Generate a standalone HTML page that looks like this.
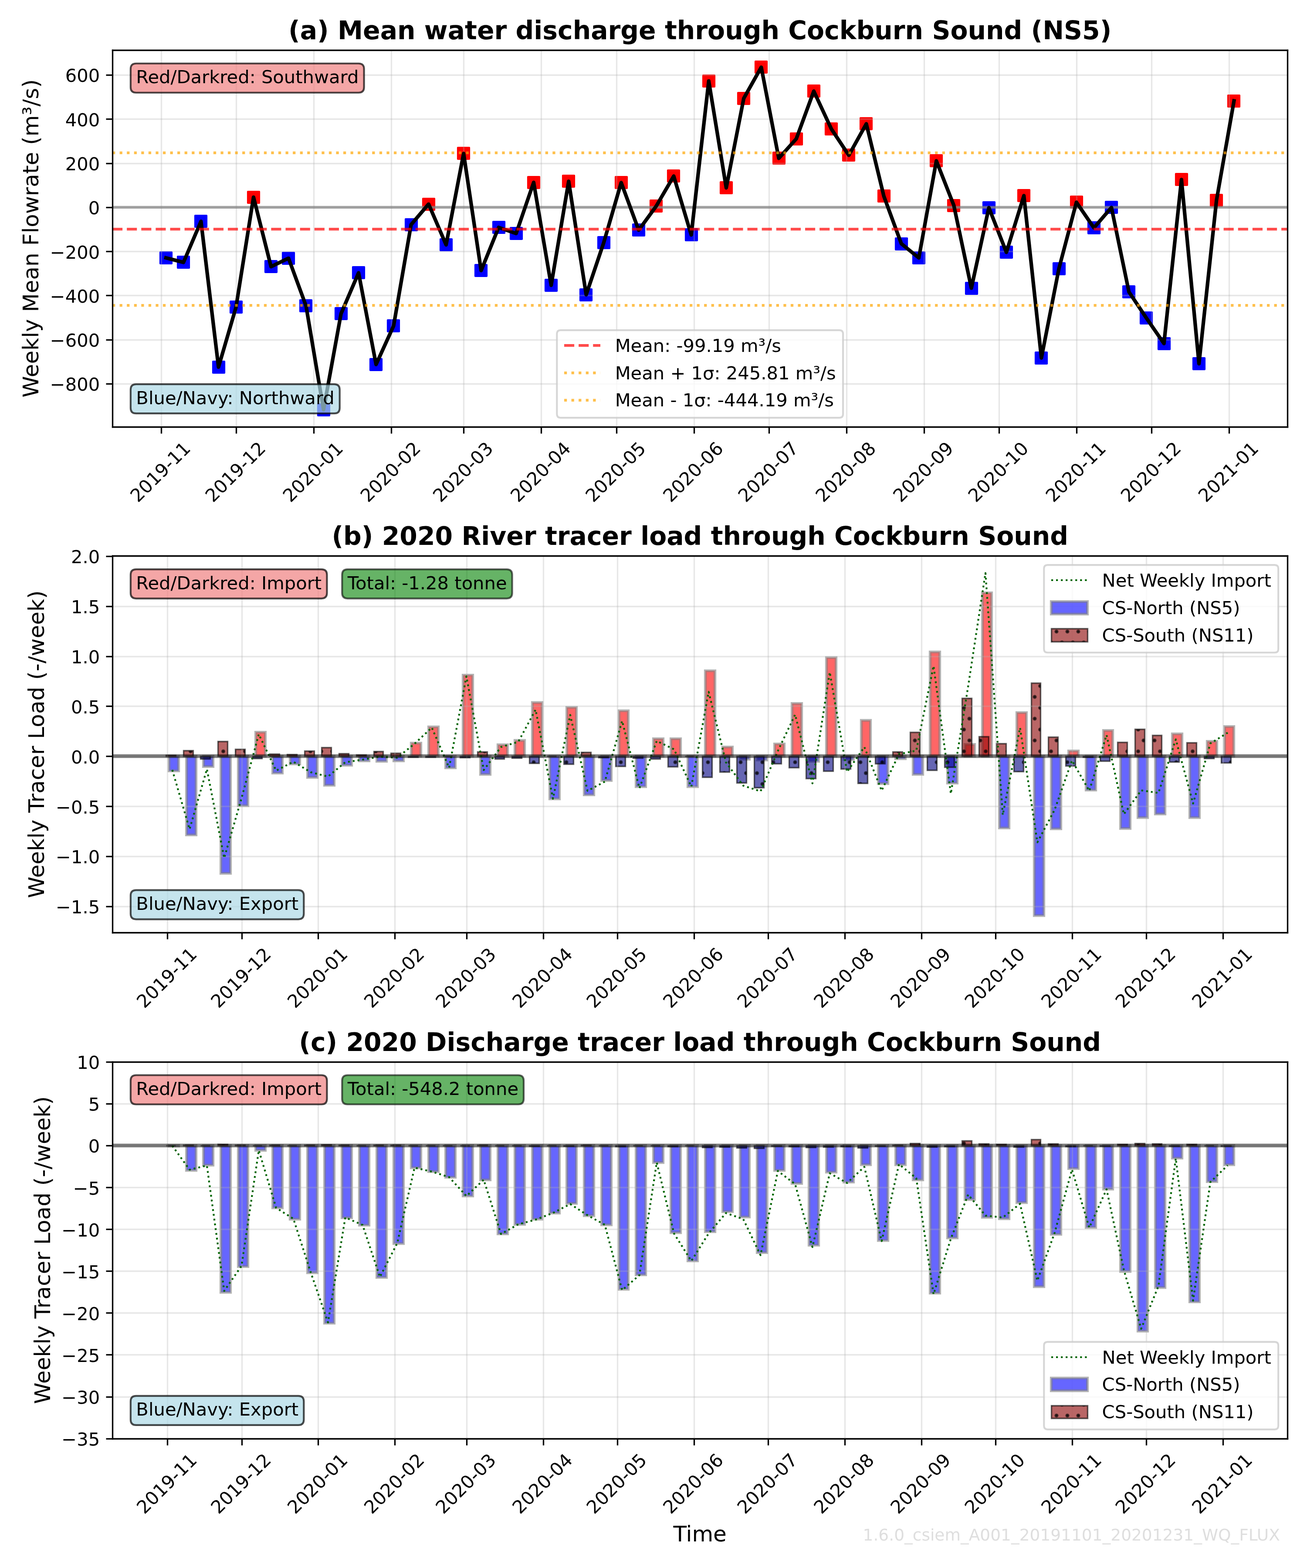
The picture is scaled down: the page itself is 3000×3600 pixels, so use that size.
<!DOCTYPE html>
<html lang="en">
<head>
<meta charset="utf-8">
<title>Cockburn Sound flux</title>
<style>
html,body{margin:0;padding:0;background:#fff;}
body{width:3000px;height:3600px;overflow:hidden;}
svg{display:block;}
text{font-family:'DejaVu Sans','Liberation Sans',sans-serif;}
</style>
</head>
<body>
<svg width="3000" height="3600" viewBox="0 0 720 864" version="1.1">
<defs>
<style type="text/css">*{stroke-linejoin: round; stroke-linecap: butt}</style>
</defs>
<g>
<g>
<path d="M 0 864 L 720 864 L 720 0 L 0 0 z" style="fill: #ffffff" />
</g>
<g>
<g>
<path d="M 61.92 235.2 L 709.2 235.2 L 709.2 27.6 L 61.92 27.6 z" style="fill: #ffffff" />
</g>
<g>
<g clip-path="url(#p6a56308ee3)">
<path d="M 88.32 145.2 L 94.56 145.2 L 94.56 138.96 L 88.32 138.96 z" style="fill: #0000ff; stroke: #0000ff" />
</g>
<g clip-path="url(#p6a56308ee3)">
<path d="M 97.92 147.6 L 104.16 147.6 L 104.16 141.36 L 97.92 141.36 z" style="fill: #0000ff; stroke: #0000ff" />
</g>
<g clip-path="url(#p6a56308ee3)">
<path d="M 107.52 125.04 L 113.76 125.04 L 113.76 118.8 L 107.52 118.8 z" style="fill: #0000ff; stroke: #0000ff" />
</g>
<g clip-path="url(#p6a56308ee3)">
<path d="M 117.36 205.44 L 123.6 205.44 L 123.6 199.2 L 117.36 199.2 z" style="fill: #0000ff; stroke: #0000ff" />
</g>
<g clip-path="url(#p6a56308ee3)">
<path d="M 126.96 172.32 L 133.2 172.32 L 133.2 166.08 L 126.96 166.08 z" style="fill: #0000ff; stroke: #0000ff" />
</g>
<g clip-path="url(#p6a56308ee3)">
<path d="M 136.56 111.84 L 142.8 111.84 L 142.8 105.6 L 136.56 105.6 z" style="fill: #ff0000; stroke: #ff0000" />
</g>
<g clip-path="url(#p6a56308ee3)">
<path d="M 146.16 150 L 152.4 150 L 152.4 143.76 L 146.16 143.76 z" style="fill: #0000ff; stroke: #0000ff" />
</g>
<g clip-path="url(#p6a56308ee3)">
<path d="M 155.76 145.44 L 162 145.44 L 162 139.2 L 155.76 139.2 z" style="fill: #0000ff; stroke: #0000ff" />
</g>
<g clip-path="url(#p6a56308ee3)">
<path d="M 165.36 171.6 L 171.6 171.6 L 171.6 165.36 L 165.36 165.36 z" style="fill: #0000ff; stroke: #0000ff" />
</g>
<g clip-path="url(#p6a56308ee3)">
<path d="M 175.2 228.96 L 181.44 228.96 L 181.44 222.72 L 175.2 222.72 z" style="fill: #0000ff; stroke: #0000ff" />
</g>
<g clip-path="url(#p6a56308ee3)">
<path d="M 184.8 175.92 L 191.04 175.92 L 191.04 169.68 L 184.8 169.68 z" style="fill: #0000ff; stroke: #0000ff" />
</g>
<g clip-path="url(#p6a56308ee3)">
<path d="M 194.4 153.36 L 200.64 153.36 L 200.64 147.12 L 194.4 147.12 z" style="fill: #0000ff; stroke: #0000ff" />
</g>
<g clip-path="url(#p6a56308ee3)">
<path d="M 204 204 L 210.24 204 L 210.24 197.76 L 204 197.76 z" style="fill: #0000ff; stroke: #0000ff" />
</g>
<g clip-path="url(#p6a56308ee3)">
<path d="M 213.6 182.64 L 219.84 182.64 L 219.84 176.4 L 213.6 176.4 z" style="fill: #0000ff; stroke: #0000ff" />
</g>
<g clip-path="url(#p6a56308ee3)">
<path d="M 223.44 126.96 L 229.68 126.96 L 229.68 120.72 L 223.44 120.72 z" style="fill: #0000ff; stroke: #0000ff" />
</g>
<g clip-path="url(#p6a56308ee3)">
<path d="M 233.04 115.68 L 239.28 115.68 L 239.28 109.44 L 233.04 109.44 z" style="fill: #ff0000; stroke: #ff0000" />
</g>
<g clip-path="url(#p6a56308ee3)">
<path d="M 242.64 138 L 248.88 138 L 248.88 131.76 L 242.64 131.76 z" style="fill: #0000ff; stroke: #0000ff" />
</g>
<g clip-path="url(#p6a56308ee3)">
<path d="M 252.24 87.6 L 258.48 87.6 L 258.48 81.36 L 252.24 81.36 z" style="fill: #ff0000; stroke: #ff0000" />
</g>
<g clip-path="url(#p6a56308ee3)">
<path d="M 261.84 152.16 L 268.08 152.16 L 268.08 145.92 L 261.84 145.92 z" style="fill: #0000ff; stroke: #0000ff" />
</g>
<g clip-path="url(#p6a56308ee3)">
<path d="M 271.68 128.4 L 277.92 128.4 L 277.92 122.16 L 271.68 122.16 z" style="fill: #0000ff; stroke: #0000ff" />
</g>
<g clip-path="url(#p6a56308ee3)">
<path d="M 281.28 131.76 L 287.52 131.76 L 287.52 125.52 L 281.28 125.52 z" style="fill: #0000ff; stroke: #0000ff" />
</g>
<g clip-path="url(#p6a56308ee3)">
<path d="M 290.88 103.68 L 297.12 103.68 L 297.12 97.44 L 290.88 97.44 z" style="fill: #ff0000; stroke: #ff0000" />
</g>
<g clip-path="url(#p6a56308ee3)">
<path d="M 300.48 160.32 L 306.72 160.32 L 306.72 154.08 L 300.48 154.08 z" style="fill: #0000ff; stroke: #0000ff" />
</g>
<g clip-path="url(#p6a56308ee3)">
<path d="M 310.08 102.96 L 316.32 102.96 L 316.32 96.72 L 310.08 96.72 z" style="fill: #ff0000; stroke: #ff0000" />
</g>
<g clip-path="url(#p6a56308ee3)">
<path d="M 319.68 165.6 L 325.92 165.6 L 325.92 159.36 L 319.68 159.36 z" style="fill: #0000ff; stroke: #0000ff" />
</g>
<g clip-path="url(#p6a56308ee3)">
<path d="M 329.52 136.8 L 335.76 136.8 L 335.76 130.56 L 329.52 130.56 z" style="fill: #0000ff; stroke: #0000ff" />
</g>
<g clip-path="url(#p6a56308ee3)">
<path d="M 339.12 103.68 L 345.36 103.68 L 345.36 97.44 L 339.12 97.44 z" style="fill: #ff0000; stroke: #ff0000" />
</g>
<g clip-path="url(#p6a56308ee3)">
<path d="M 348.72 129.84 L 354.96 129.84 L 354.96 123.6 L 348.72 123.6 z" style="fill: #0000ff; stroke: #0000ff" />
</g>
<g clip-path="url(#p6a56308ee3)">
<path d="M 358.32 116.64 L 364.56 116.64 L 364.56 110.4 L 358.32 110.4 z" style="fill: #ff0000; stroke: #ff0000" />
</g>
<g clip-path="url(#p6a56308ee3)">
<path d="M 367.92 100.08 L 374.16 100.08 L 374.16 93.84 L 367.92 93.84 z" style="fill: #ff0000; stroke: #ff0000" />
</g>
<g clip-path="url(#p6a56308ee3)">
<path d="M 377.76 132.48 L 384 132.48 L 384 126.24 L 377.76 126.24 z" style="fill: #0000ff; stroke: #0000ff" />
</g>
<g clip-path="url(#p6a56308ee3)">
<path d="M 387.36 47.76 L 393.6 47.76 L 393.6 41.52 L 387.36 41.52 z" style="fill: #ff0000; stroke: #ff0000" />
</g>
<g clip-path="url(#p6a56308ee3)">
<path d="M 396.96 106.56 L 403.2 106.56 L 403.2 100.32 L 396.96 100.32 z" style="fill: #ff0000; stroke: #ff0000" />
</g>
<g clip-path="url(#p6a56308ee3)">
<path d="M 406.56 57.36 L 412.8 57.36 L 412.8 51.12 L 406.56 51.12 z" style="fill: #ff0000; stroke: #ff0000" />
</g>
<g clip-path="url(#p6a56308ee3)">
<path d="M 416.16 40.08 L 422.4 40.08 L 422.4 33.84 L 416.16 33.84 z" style="fill: #ff0000; stroke: #ff0000" />
</g>
<g clip-path="url(#p6a56308ee3)">
<path d="M 426 90.24 L 432.24 90.24 L 432.24 84 L 426 84 z" style="fill: #ff0000; stroke: #ff0000" />
</g>
<g clip-path="url(#p6a56308ee3)">
<path d="M 435.6 79.68 L 441.84 79.68 L 441.84 73.44 L 435.6 73.44 z" style="fill: #ff0000; stroke: #ff0000" />
</g>
<g clip-path="url(#p6a56308ee3)">
<path d="M 445.2 53.28 L 451.44 53.28 L 451.44 47.04 L 445.2 47.04 z" style="fill: #ff0000; stroke: #ff0000" />
</g>
<g clip-path="url(#p6a56308ee3)">
<path d="M 454.8 74.16 L 461.04 74.16 L 461.04 67.92 L 454.8 67.92 z" style="fill: #ff0000; stroke: #ff0000" />
</g>
<g clip-path="url(#p6a56308ee3)">
<path d="M 464.4 88.56 L 470.64 88.56 L 470.64 82.32 L 464.4 82.32 z" style="fill: #ff0000; stroke: #ff0000" />
</g>
<g clip-path="url(#p6a56308ee3)">
<path d="M 474 71.28 L 480.24 71.28 L 480.24 65.04 L 474 65.04 z" style="fill: #ff0000; stroke: #ff0000" />
</g>
<g clip-path="url(#p6a56308ee3)">
<path d="M 483.84 111.12 L 490.08 111.12 L 490.08 104.88 L 483.84 104.88 z" style="fill: #ff0000; stroke: #ff0000" />
</g>
<g clip-path="url(#p6a56308ee3)">
<path d="M 493.44 137.52 L 499.68 137.52 L 499.68 131.28 L 493.44 131.28 z" style="fill: #0000ff; stroke: #0000ff" />
</g>
<g clip-path="url(#p6a56308ee3)">
<path d="M 503.04 145.2 L 509.28 145.2 L 509.28 138.96 L 503.04 138.96 z" style="fill: #0000ff; stroke: #0000ff" />
</g>
<g clip-path="url(#p6a56308ee3)">
<path d="M 512.64 91.68 L 518.88 91.68 L 518.88 85.44 L 512.64 85.44 z" style="fill: #ff0000; stroke: #ff0000" />
</g>
<g clip-path="url(#p6a56308ee3)">
<path d="M 522.24 116.4 L 528.48 116.4 L 528.48 110.16 L 522.24 110.16 z" style="fill: #ff0000; stroke: #ff0000" />
</g>
<g clip-path="url(#p6a56308ee3)">
<path d="M 532.08 162 L 538.32 162 L 538.32 155.76 L 532.08 155.76 z" style="fill: #0000ff; stroke: #0000ff" />
</g>
<g clip-path="url(#p6a56308ee3)">
<path d="M 541.68 117.6 L 547.92 117.6 L 547.92 111.36 L 541.68 111.36 z" style="fill: #0000ff; stroke: #0000ff" />
</g>
<g clip-path="url(#p6a56308ee3)">
<path d="M 551.28 142.08 L 557.52 142.08 L 557.52 135.84 L 551.28 135.84 z" style="fill: #0000ff; stroke: #0000ff" />
</g>
<g clip-path="url(#p6a56308ee3)">
<path d="M 560.88 110.88 L 567.12 110.88 L 567.12 104.64 L 560.88 104.64 z" style="fill: #ff0000; stroke: #ff0000" />
</g>
<g clip-path="url(#p6a56308ee3)">
<path d="M 570.48 200.4 L 576.72 200.4 L 576.72 194.16 L 570.48 194.16 z" style="fill: #0000ff; stroke: #0000ff" />
</g>
<g clip-path="url(#p6a56308ee3)">
<path d="M 580.32 151.2 L 586.56 151.2 L 586.56 144.96 L 580.32 144.96 z" style="fill: #0000ff; stroke: #0000ff" />
</g>
<g clip-path="url(#p6a56308ee3)">
<path d="M 589.92 114.48 L 596.16 114.48 L 596.16 108.24 L 589.92 108.24 z" style="fill: #ff0000; stroke: #ff0000" />
</g>
<g clip-path="url(#p6a56308ee3)">
<path d="M 599.52 128.64 L 605.76 128.64 L 605.76 122.4 L 599.52 122.4 z" style="fill: #0000ff; stroke: #0000ff" />
</g>
<g clip-path="url(#p6a56308ee3)">
<path d="M 609.12 117.36 L 615.36 117.36 L 615.36 111.12 L 609.12 111.12 z" style="fill: #0000ff; stroke: #0000ff" />
</g>
<g clip-path="url(#p6a56308ee3)">
<path d="M 618.72 163.92 L 624.96 163.92 L 624.96 157.68 L 618.72 157.68 z" style="fill: #0000ff; stroke: #0000ff" />
</g>
<g clip-path="url(#p6a56308ee3)">
<path d="M 628.32 178.32 L 634.56 178.32 L 634.56 172.08 L 628.32 172.08 z" style="fill: #0000ff; stroke: #0000ff" />
</g>
<g clip-path="url(#p6a56308ee3)">
<path d="M 638.16 192.48 L 644.4 192.48 L 644.4 186.24 L 638.16 186.24 z" style="fill: #0000ff; stroke: #0000ff" />
</g>
<g clip-path="url(#p6a56308ee3)">
<path d="M 647.76 102 L 654 102 L 654 95.76 L 647.76 95.76 z" style="fill: #ff0000; stroke: #ff0000" />
</g>
<g clip-path="url(#p6a56308ee3)">
<path d="M 657.36 203.52 L 663.6 203.52 L 663.6 197.28 L 657.36 197.28 z" style="fill: #0000ff; stroke: #0000ff" />
</g>
<g clip-path="url(#p6a56308ee3)">
<path d="M 666.96 113.52 L 673.2 113.52 L 673.2 107.28 L 666.96 107.28 z" style="fill: #ff0000; stroke: #ff0000" />
</g>
<g clip-path="url(#p6a56308ee3)">
<path d="M 676.56 58.8 L 682.8 58.8 L 682.8 52.56 L 676.56 52.56 z" style="fill: #ff0000; stroke: #ff0000" />
</g>
</g>
<g>
<g>
<g>
<path d="M 88.92 235.32 L 88.92 27.72" clip-path="url(#p6a56308ee3)" style="fill: none; stroke: #b0b0b0; stroke-opacity: 0.3; stroke-width: 0.8; stroke-linecap: square" />
</g>
<g>
<g>
<path d="M 88.92 235.32 L 88.92 238.92" style="stroke: #000000; stroke-width: 0.8" />
</g>
</g>
<g>
<text style="font-size: 10px; font-family: 'DejaVu Sans', 'Liberation Sans', sans-serif" transform="translate(76.02612 277.26743) rotate(-45)">2019-11</text>
</g>
</g>
<g>
<g>
<path d="M 130.2 235.32 L 130.2 27.72" clip-path="url(#p6a56308ee3)" style="fill: none; stroke: #b0b0b0; stroke-opacity: 0.3; stroke-width: 0.8; stroke-linecap: square" />
</g>
<g>
<g>
<path d="M 130.2 235.32 L 130.2 238.92" style="stroke: #000000; stroke-width: 0.8" />
</g>
</g>
<g>
<text style="font-size: 10px; font-family: 'DejaVu Sans', 'Liberation Sans', sans-serif" transform="translate(117.37273 277.24622) rotate(-45)">2019-12</text>
</g>
</g>
<g>
<g>
<path d="M 172.92 235.32 L 172.92 27.72" clip-path="url(#p6a56308ee3)" style="fill: none; stroke: #b0b0b0; stroke-opacity: 0.3; stroke-width: 0.8; stroke-linecap: square" />
</g>
<g>
<g>
<path d="M 172.92 235.32 L 172.92 238.92" style="stroke: #000000; stroke-width: 0.8" />
</g>
</g>
<g>
<text style="font-size: 10px; font-family: 'DejaVu Sans', 'Liberation Sans', sans-serif" transform="translate(160.07599 277.26743) rotate(-45)">2020-01</text>
</g>
</g>
<g>
<g>
<path d="M 215.64 235.32 L 215.64 27.72" clip-path="url(#p6a56308ee3)" style="fill: none; stroke: #b0b0b0; stroke-opacity: 0.3; stroke-width: 0.8; stroke-linecap: square" />
</g>
<g>
<g>
<path d="M 215.64 235.32 L 215.64 238.92" style="stroke: #000000; stroke-width: 0.8" />
</g>
</g>
<g>
<text style="font-size: 10px; font-family: 'DejaVu Sans', 'Liberation Sans', sans-serif" transform="translate(202.80047 277.24622) rotate(-45)">2020-02</text>
</g>
</g>
<g>
<g>
<path d="M 255.48 235.32 L 255.48 27.72" clip-path="url(#p6a56308ee3)" style="fill: none; stroke: #b0b0b0; stroke-opacity: 0.3; stroke-width: 0.8; stroke-linecap: square" />
</g>
<g>
<g>
<path d="M 255.48 235.32 L 255.48 238.92" style="stroke: #000000; stroke-width: 0.8" />
</g>
</g>
<g>
<text style="font-size: 10px; font-family: 'DejaVu Sans', 'Liberation Sans', sans-serif" transform="translate(242.73739 277.28865) rotate(-45)">2020-03</text>
</g>
</g>
<g>
<g>
<path d="M 298.2 235.32 L 298.2 27.72" clip-path="url(#p6a56308ee3)" style="fill: none; stroke: #b0b0b0; stroke-opacity: 0.3; stroke-width: 0.8; stroke-linecap: square" />
</g>
<g>
<g>
<path d="M 298.2 235.32 L 298.2 238.92" style="stroke: #000000; stroke-width: 0.8" />
</g>
</g>
<g>
<text style="font-size: 10px; font-family: 'DejaVu Sans', 'Liberation Sans', sans-serif" transform="translate(285.46186 277.26743) rotate(-45)">2020-04</text>
</g>
</g>
<g>
<g>
<path d="M 339.72 235.32 L 339.72 27.72" clip-path="url(#p6a56308ee3)" style="fill: none; stroke: #b0b0b0; stroke-opacity: 0.3; stroke-width: 0.8; stroke-linecap: square" />
</g>
<g>
<g>
<path d="M 339.72 235.32 L 339.72 238.92" style="stroke: #000000; stroke-width: 0.8" />
</g>
</g>
<g>
<text style="font-size: 10px; font-family: 'DejaVu Sans', 'Liberation Sans', sans-serif" transform="translate(326.79787 277.26743) rotate(-45)">2020-05</text>
</g>
</g>
<g>
<g>
<path d="M 382.44 235.32 L 382.44 27.72" clip-path="url(#p6a56308ee3)" style="fill: none; stroke: #b0b0b0; stroke-opacity: 0.3; stroke-width: 0.8; stroke-linecap: square" />
</g>
<g>
<g>
<path d="M 382.44 235.32 L 382.44 238.92" style="stroke: #000000; stroke-width: 0.8" />
</g>
</g>
<g>
<text style="font-size: 10px; font-family: 'DejaVu Sans', 'Liberation Sans', sans-serif" transform="translate(369.51173 277.26743) rotate(-45)">2020-06</text>
</g>
</g>
<g>
<g>
<path d="M 423.72 235.32 L 423.72 27.72" clip-path="url(#p6a56308ee3)" style="fill: none; stroke: #b0b0b0; stroke-opacity: 0.3; stroke-width: 0.8; stroke-linecap: square" />
</g>
<g>
<g>
<path d="M 423.72 235.32 L 423.72 238.92" style="stroke: #000000; stroke-width: 0.8" />
</g>
</g>
<g>
<text style="font-size: 10px; font-family: 'DejaVu Sans', 'Liberation Sans', sans-serif" transform="translate(410.85834 277.24622) rotate(-45)">2020-07</text>
</g>
</g>
<g>
<g>
<path d="M 466.44 235.32 L 466.44 27.72" clip-path="url(#p6a56308ee3)" style="fill: none; stroke: #b0b0b0; stroke-opacity: 0.3; stroke-width: 0.8; stroke-linecap: square" />
</g>
<g>
<g>
<path d="M 466.44 235.32 L 466.44 238.92" style="stroke: #000000; stroke-width: 0.8" />
</g>
</g>
<g>
<text style="font-size: 10px; font-family: 'DejaVu Sans', 'Liberation Sans', sans-serif" transform="translate(453.55100 277.28865) rotate(-45)">2020-08</text>
</g>
</g>
<g>
<g>
<path d="M 509.16 235.32 L 509.16 27.72" clip-path="url(#p6a56308ee3)" style="fill: none; stroke: #b0b0b0; stroke-opacity: 0.3; stroke-width: 0.8; stroke-linecap: square" />
</g>
<g>
<g>
<path d="M 509.16 235.32 L 509.16 238.92" style="stroke: #000000; stroke-width: 0.8" />
</g>
</g>
<g>
<text style="font-size: 10px; font-family: 'DejaVu Sans', 'Liberation Sans', sans-serif" transform="translate(496.28608 277.24622) rotate(-45)">2020-09</text>
</g>
</g>
<g>
<g>
<path d="M 550.44 235.32 L 550.44 27.72" clip-path="url(#p6a56308ee3)" style="fill: none; stroke: #b0b0b0; stroke-opacity: 0.3; stroke-width: 0.8; stroke-linecap: square" />
</g>
<g>
<g>
<path d="M 550.44 235.32 L 550.44 238.92" style="stroke: #000000; stroke-width: 0.8" />
</g>
</g>
<g>
<text style="font-size: 10px; font-family: 'DejaVu Sans', 'Liberation Sans', sans-serif" transform="translate(537.61147 277.26743) rotate(-45)">2020-10</text>
</g>
</g>
<g>
<g>
<path d="M 593.16 235.32 L 593.16 27.72" clip-path="url(#p6a56308ee3)" style="fill: none; stroke: #b0b0b0; stroke-opacity: 0.3; stroke-width: 0.8; stroke-linecap: square" />
</g>
<g>
<g>
<path d="M 593.16 235.32 L 593.16 238.92" style="stroke: #000000; stroke-width: 0.8" />
</g>
</g>
<g>
<text style="font-size: 10px; font-family: 'DejaVu Sans', 'Liberation Sans', sans-serif" transform="translate(580.32534 277.26743) rotate(-45)">2020-11</text>
</g>
</g>
<g>
<g>
<path d="M 634.44 235.32 L 634.44 27.72" clip-path="url(#p6a56308ee3)" style="fill: none; stroke: #b0b0b0; stroke-opacity: 0.3; stroke-width: 0.8; stroke-linecap: square" />
</g>
<g>
<g>
<path d="M 634.44 235.32 L 634.44 238.92" style="stroke: #000000; stroke-width: 0.8" />
</g>
</g>
<g>
<text style="font-size: 10px; font-family: 'DejaVu Sans', 'Liberation Sans', sans-serif" transform="translate(621.67195 277.24622) rotate(-45)">2020-12</text>
</g>
</g>
<g>
<g>
<path d="M 677.16 235.32 L 677.16 27.72" clip-path="url(#p6a56308ee3)" style="fill: none; stroke: #b0b0b0; stroke-opacity: 0.3; stroke-width: 0.8; stroke-linecap: square" />
</g>
<g>
<g>
<path d="M 677.16 235.32 L 677.16 238.92" style="stroke: #000000; stroke-width: 0.8" />
</g>
</g>
<g>
<text style="font-size: 10px; font-family: 'DejaVu Sans', 'Liberation Sans', sans-serif" transform="translate(664.37521 277.26743) rotate(-45)">2021-01</text>
</g>
</g>
</g>
<g>
<g>
<g>
<path d="M 62.04 211.56 L 709.32 211.56" clip-path="url(#p6a56308ee3)" style="fill: none; stroke: #b0b0b0; stroke-opacity: 0.3; stroke-width: 0.8; stroke-linecap: square" />
</g>
<g>
<g>
<path d="M 62.04 211.56 L 58.44 211.56" style="stroke: #000000; stroke-width: 0.8" />
</g>
</g>
<g>
<text style="font-size: 10px; font-family: 'DejaVu Sans', 'Liberation Sans', sans-serif; text-anchor: end" x="55.016" y="215.39953">−800</text>
</g>
</g>
<g>
<g>
<path d="M 62.04 187.32 L 709.32 187.32" clip-path="url(#p6a56308ee3)" style="fill: none; stroke: #b0b0b0; stroke-opacity: 0.3; stroke-width: 0.8; stroke-linecap: square" />
</g>
<g>
<g>
<path d="M 62.04 187.32 L 58.44 187.32" style="stroke: #000000; stroke-width: 0.8" />
</g>
</g>
<g>
<text style="font-size: 10px; font-family: 'DejaVu Sans', 'Liberation Sans', sans-serif; text-anchor: end" x="55.016" y="191.09065">−600</text>
</g>
</g>
<g>
<g>
<path d="M 62.04 162.84 L 709.32 162.84" clip-path="url(#p6a56308ee3)" style="fill: none; stroke: #b0b0b0; stroke-opacity: 0.3; stroke-width: 0.8; stroke-linecap: square" />
</g>
<g>
<g>
<path d="M 62.04 162.84 L 58.44 162.84" style="stroke: #000000; stroke-width: 0.8" />
</g>
</g>
<g>
<text style="font-size: 10px; font-family: 'DejaVu Sans', 'Liberation Sans', sans-serif; text-anchor: end" x="55.016" y="166.78177">−400</text>
</g>
</g>
<g>
<g>
<path d="M 62.04 138.6 L 709.32 138.6" clip-path="url(#p6a56308ee3)" style="fill: none; stroke: #b0b0b0; stroke-opacity: 0.3; stroke-width: 0.8; stroke-linecap: square" />
</g>
<g>
<g>
<path d="M 62.04 138.6 L 58.44 138.6" style="stroke: #000000; stroke-width: 0.8" />
</g>
</g>
<g>
<text style="font-size: 10px; font-family: 'DejaVu Sans', 'Liberation Sans', sans-serif; text-anchor: end" x="55.016" y="142.47290">−200</text>
</g>
</g>
<g>
<g>
<path d="M 62.04 114.36 L 709.32 114.36" clip-path="url(#p6a56308ee3)" style="fill: none; stroke: #b0b0b0; stroke-opacity: 0.3; stroke-width: 0.8; stroke-linecap: square" />
</g>
<g>
<g>
<path d="M 62.04 114.36 L 58.44 114.36" style="stroke: #000000; stroke-width: 0.8" />
</g>
</g>
<g>
<text style="font-size: 10px; font-family: 'DejaVu Sans', 'Liberation Sans', sans-serif; text-anchor: end" x="55.016" y="118.16402">0</text>
</g>
</g>
<g>
<g>
<path d="M 62.04 90.12 L 709.32 90.12" clip-path="url(#p6a56308ee3)" style="fill: none; stroke: #b0b0b0; stroke-opacity: 0.3; stroke-width: 0.8; stroke-linecap: square" />
</g>
<g>
<g>
<path d="M 62.04 90.12 L 58.44 90.12" style="stroke: #000000; stroke-width: 0.8" />
</g>
</g>
<g>
<text style="font-size: 10px; font-family: 'DejaVu Sans', 'Liberation Sans', sans-serif; text-anchor: end" x="55.016" y="93.85514">200</text>
</g>
</g>
<g>
<g>
<path d="M 62.04 65.64 L 709.32 65.64" clip-path="url(#p6a56308ee3)" style="fill: none; stroke: #b0b0b0; stroke-opacity: 0.3; stroke-width: 0.8; stroke-linecap: square" />
</g>
<g>
<g>
<path d="M 62.04 65.64 L 58.44 65.64" style="stroke: #000000; stroke-width: 0.8" />
</g>
</g>
<g>
<text style="font-size: 10px; font-family: 'DejaVu Sans', 'Liberation Sans', sans-serif; text-anchor: end" x="55.016" y="69.54626">400</text>
</g>
</g>
<g>
<g>
<path d="M 62.04 41.4 L 709.32 41.4" clip-path="url(#p6a56308ee3)" style="fill: none; stroke: #b0b0b0; stroke-opacity: 0.3; stroke-width: 0.8; stroke-linecap: square" />
</g>
<g>
<g>
<path d="M 62.04 41.4 L 58.44 41.4" style="stroke: #000000; stroke-width: 0.8" />
</g>
</g>
<g>
<text style="font-size: 10px; font-family: 'DejaVu Sans', 'Liberation Sans', sans-serif; text-anchor: end" x="55.016" y="45.23739">600</text>
</g>
</g>
<g>
<text style="font-size: 12px; font-family: 'DejaVu Sans', 'Liberation Sans', sans-serif; text-anchor: middle" x="21.136" y="131.3904" transform="rotate(-90 21.136 131.3904)">Weekly Mean Flowrate (m³/s)</text>
</g>
</g>
<g>
<path d="M 61.92 114.24 L 709.2 114.24" clip-path="url(#p6a56308ee3)" style="fill: none; stroke: #808080; stroke-opacity: 0.7; stroke-width: 1.5; stroke-linecap: square" />
</g>
<g>
<path d="M 91.433 142.086 L 101.079 144.578 L 110.724 121.959 L 120.369 202.287 L 130.014 169.276 L 139.659 108.613 L 149.304 146.912 L 158.949 142.281 L 168.594 168.583 L 178.239 225.745 L 187.884 172.801 L 197.529 150.315 L 207.174 200.829 L 216.819 179.571 L 226.464 123.77 L 236.109 112.454 L 245.755 134.915 L 255.4 84.559 L 265.045 149.099 L 274.69 125.313 L 284.335 128.668 L 293.98 100.494 L 303.625 157.219 L 313.27 99.898 L 322.915 162.409 L 332.56 133.785 L 342.205 100.628 L 351.85 126.82 L 361.495 113.584 L 371.14 97.03 L 380.785 129.458 L 390.431 44.608 L 400.076 103.508 L 409.721 54.21 L 419.366 37.035 L 429.011 87.233 L 438.656 76.489 L 448.301 50.223 L 457.946 71.007 L 467.591 85.544 L 477.236 68.224 L 486.881 108.066 L 496.526 134.295 L 506.171 142.111 L 515.816 88.631 L 525.461 113.244 L 535.107 158.762 L 544.752 114.411 L 554.397 139.023 L 564.042 107.799 L 573.687 197.219 L 583.332 148.018 L 592.977 111.433 L 602.622 125.556 L 612.267 114.326 L 621.912 160.865 L 631.557 175.304 L 641.202 189.294 L 650.847 98.95 L 660.492 200.415 L 670.137 110.436 L 679.783 55.607" clip-path="url(#p6a56308ee3)" style="fill: none; stroke: #000000; stroke-width: 2; stroke-linecap: square" />
</g>
<g>
<path d="M 61.92 126.24 L 709.2 126.24" clip-path="url(#p6a56308ee3)" style="fill: none; stroke-dasharray: 5.55,2.4; stroke-dashoffset: 0; stroke: #ff0000; stroke-opacity: 0.7; stroke-width: 1.5" />
</g>
<g>
<path d="M 61.92 84.24 L 709.2 84.24" clip-path="url(#p6a56308ee3)" style="fill: none; stroke-dasharray: 1.5,2.475; stroke-dashoffset: 0; stroke: #ffa500; stroke-opacity: 0.7; stroke-width: 1.5" />
</g>
<g>
<path d="M 61.92 168.24 L 709.2 168.24" clip-path="url(#p6a56308ee3)" style="fill: none; stroke-dasharray: 1.5,2.475; stroke-dashoffset: 0; stroke: #ffa500; stroke-opacity: 0.7; stroke-width: 1.5" />
</g>
<g>
<path d="M 62.04 235.32 L 62.04 27.72" style="fill: none; stroke: #000000; stroke-width: 0.8; stroke-linejoin: miter; stroke-linecap: square" />
</g>
<g>
<path d="M 709.32 235.32 L 709.32 27.72" style="fill: none; stroke: #000000; stroke-width: 0.8; stroke-linejoin: miter; stroke-linecap: square" />
</g>
<g>
<path d="M 62.04 235.32 L 709.32 235.32" style="fill: none; stroke: #000000; stroke-width: 0.8; stroke-linejoin: miter; stroke-linecap: square" />
</g>
<g>
<path d="M 62.04 27.72 L 709.32 27.72" style="fill: none; stroke: #000000; stroke-width: 0.8; stroke-linejoin: miter; stroke-linecap: square" />
</g>
<g>
<g>
<path d="M 74.96 51.059 L 197.54 51.059 Q 200.54 51.059 200.54 48.059 L 200.54 37.979 Q 200.54 34.979 197.54 34.979 L 74.96 34.979 Q 71.96 34.979 71.96 37.979 L 71.96 48.059 Q 71.96 51.059 74.96 51.059 z" style="fill: #f08080; stroke: #000000; stroke-linejoin: miter; fill-opacity: 0.7; stroke-opacity: 0.7" />
</g>
<text style="font-size: 10px; font-family: 'DejaVu Sans', 'Liberation Sans', sans-serif; text-anchor: start" x="74.95968" y="45.89904">Red/Darkred: Southward</text>
</g>
<g>
<g>
<path d="M 74.96 227.802 L 184.13 227.802 Q 187.13 227.802 187.13 224.802 L 187.13 214.722 Q 187.13 211.722 184.13 211.722 L 74.96 211.722 Q 71.96 211.722 71.96 214.722 L 71.96 224.802 Q 71.96 227.802 74.96 227.802 z" style="fill: #add8e6; stroke: #000000; stroke-linejoin: miter; fill-opacity: 0.7; stroke-opacity: 0.7" />
</g>
<text style="font-size: 10px; font-family: 'DejaVu Sans', 'Liberation Sans', sans-serif; text-anchor: start" x="74.95968" y="222.64176">Blue/Navy: Northward</text>
</g>
<g>
<text style="font-weight: 700; font-size: 14px; font-family: 'DejaVu Sans', 'Liberation Sans', sans-serif; text-anchor: middle" x="385.608" y="21.6">(a) Mean water discharge through Cockburn Sound (NS5)</text>
</g>
<g>
<g>
<path d="M 308.798 230.181 L 462.418 230.181 Q 464.418 230.181 464.418 228.181 L 464.418 183.941 Q 464.418 181.941 462.418 181.941 L 308.798 181.941 Q 306.798 181.941 306.798 183.941 L 306.798 228.181 Q 306.798 230.181 308.798 230.181 z" style="fill: #ffffff; stroke: #cccccc; stroke-linejoin: miter; fill-opacity: 0.8; stroke-opacity: 0.8" />
</g>
<g>
<path d="M 310.8 190.32 L 320.88 190.32 L 330.72 190.32" style="fill: none; stroke-dasharray: 5.55,2.4; stroke-dashoffset: 0; stroke: #ff0000; stroke-opacity: 0.7; stroke-width: 1.5" />
</g>
<g>
<text style="font-size: 10px; font-family: 'DejaVu Sans', 'Liberation Sans', sans-serif; text-anchor: start" x="338.798" y="193.8608">Mean: -99.19 m³/s</text>
</g>
<g>
<path d="M 310.8 205.44 L 320.88 205.44 L 330.72 205.44" style="fill: none; stroke-dasharray: 1.5,2.475; stroke-dashoffset: 0; stroke: #ffa500; stroke-opacity: 0.7; stroke-width: 1.5" />
</g>
<g>
<text style="font-size: 10px; font-family: 'DejaVu Sans', 'Liberation Sans', sans-serif; text-anchor: start" x="338.798" y="208.9408">Mean + 1σ: 245.81 m³/s</text>
</g>
<g>
<path d="M 310.8 220.56 L 320.88 220.56 L 330.72 220.56" style="fill: none; stroke-dasharray: 1.5,2.475; stroke-dashoffset: 0; stroke: #ffa500; stroke-opacity: 0.7; stroke-width: 1.5" />
</g>
<g>
<text style="font-size: 10px; font-family: 'DejaVu Sans', 'Liberation Sans', sans-serif; text-anchor: start" x="338.798" y="224.0208">Mean - 1σ: -444.19 m³/s</text>
</g>
</g>
</g>
<g>
<g>
<path d="M 61.92 513.84 L 709.2 513.84 L 709.2 306.24 L 61.92 306.24 z" style="fill: #ffffff" />
</g>
<g>
<path d="M 93.12 416.64 L 98.4 416.64 L 98.4 424.8 L 93.12 424.8 z" clip-path="url(#pf68f70f5b5)" style="fill: #0000ff; stroke: #808080; stroke-width: 1.5; stroke-linejoin: miter; fill-opacity: 0.6; stroke-opacity: 0.6" />
</g>
<g>
<path d="M 102.72 416.64 L 108 416.64 L 108 460.08 L 102.72 460.08 z" clip-path="url(#pf68f70f5b5)" style="fill: #0000ff; stroke: #808080; stroke-width: 1.5; stroke-linejoin: miter; fill-opacity: 0.6; stroke-opacity: 0.6" />
</g>
<g>
<path d="M 112.08 416.64 L 117.36 416.64 L 117.36 422.4 L 112.08 422.4 z" clip-path="url(#pf68f70f5b5)" style="fill: #0000ff; stroke: #808080; stroke-width: 1.5; stroke-linejoin: miter; fill-opacity: 0.6; stroke-opacity: 0.6" />
</g>
<g>
<path d="M 121.68 416.64 L 126.96 416.64 L 126.96 481.2 L 121.68 481.2 z" clip-path="url(#pf68f70f5b5)" style="fill: #0000ff; stroke: #808080; stroke-width: 1.5; stroke-linejoin: miter; fill-opacity: 0.6; stroke-opacity: 0.6" />
</g>
<g>
<path d="M 131.28 416.64 L 136.56 416.64 L 136.56 444 L 131.28 444 z" clip-path="url(#pf68f70f5b5)" style="fill: #0000ff; stroke: #808080; stroke-width: 1.5; stroke-linejoin: miter; fill-opacity: 0.6; stroke-opacity: 0.6" />
</g>
<g>
<path d="M 140.88 416.64 L 146.16 416.64 L 146.16 403.44 L 140.88 403.44 z" clip-path="url(#pf68f70f5b5)" style="fill: #ff0000; stroke: #808080; stroke-width: 1.5; stroke-linejoin: miter; fill-opacity: 0.6; stroke-opacity: 0.6" />
</g>
<g>
<path d="M 150.24 416.64 L 155.52 416.64 L 155.52 426 L 150.24 426 z" clip-path="url(#pf68f70f5b5)" style="fill: #0000ff; stroke: #808080; stroke-width: 1.5; stroke-linejoin: miter; fill-opacity: 0.6; stroke-opacity: 0.6" />
</g>
<g>
<path d="M 159.84 416.64 L 165.12 416.64 L 165.12 420.96 L 159.84 420.96 z" clip-path="url(#pf68f70f5b5)" style="fill: #0000ff; stroke: #808080; stroke-width: 1.5; stroke-linejoin: miter; fill-opacity: 0.6; stroke-opacity: 0.6" />
</g>
<g>
<path d="M 169.44 416.64 L 174.72 416.64 L 174.72 428.4 L 169.44 428.4 z" clip-path="url(#pf68f70f5b5)" style="fill: #0000ff; stroke: #808080; stroke-width: 1.5; stroke-linejoin: miter; fill-opacity: 0.6; stroke-opacity: 0.6" />
</g>
<g>
<path d="M 178.8 416.64 L 184.08 416.64 L 184.08 432.72 L 178.8 432.72 z" clip-path="url(#pf68f70f5b5)" style="fill: #0000ff; stroke: #808080; stroke-width: 1.5; stroke-linejoin: miter; fill-opacity: 0.6; stroke-opacity: 0.6" />
</g>
<g>
<path d="M 188.4 416.64 L 193.68 416.64 L 193.68 421.68 L 188.4 421.68 z" clip-path="url(#pf68f70f5b5)" style="fill: #0000ff; stroke: #808080; stroke-width: 1.5; stroke-linejoin: miter; fill-opacity: 0.6; stroke-opacity: 0.6" />
</g>
<g>
<path d="M 198 416.64 L 203.28 416.64 L 203.28 419.28 L 198 419.28 z" clip-path="url(#pf68f70f5b5)" style="fill: #0000ff; stroke: #808080; stroke-width: 1.5; stroke-linejoin: miter; fill-opacity: 0.6; stroke-opacity: 0.6" />
</g>
<g>
<path d="M 207.6 416.64 L 212.88 416.64 L 212.88 419.52 L 207.6 419.52 z" clip-path="url(#pf68f70f5b5)" style="fill: #0000ff; stroke: #808080; stroke-width: 1.5; stroke-linejoin: miter; fill-opacity: 0.6; stroke-opacity: 0.6" />
</g>
<g>
<path d="M 216.96 416.64 L 222.24 416.64 L 222.24 419.28 L 216.96 419.28 z" clip-path="url(#pf68f70f5b5)" style="fill: #0000ff; stroke: #808080; stroke-width: 1.5; stroke-linejoin: miter; fill-opacity: 0.6; stroke-opacity: 0.6" />
</g>
<g>
<path d="M 226.56 416.64 L 231.84 416.64 L 231.84 409.44 L 226.56 409.44 z" clip-path="url(#pf68f70f5b5)" style="fill: #ff0000; stroke: #808080; stroke-width: 1.5; stroke-linejoin: miter; fill-opacity: 0.6; stroke-opacity: 0.6" />
</g>
<g>
<path d="M 236.16 416.64 L 241.44 416.64 L 241.44 400.56 L 236.16 400.56 z" clip-path="url(#pf68f70f5b5)" style="fill: #ff0000; stroke: #808080; stroke-width: 1.5; stroke-linejoin: miter; fill-opacity: 0.6; stroke-opacity: 0.6" />
</g>
<g>
<path d="M 245.52 416.64 L 250.8 416.64 L 250.8 423.12 L 245.52 423.12 z" clip-path="url(#pf68f70f5b5)" style="fill: #0000ff; stroke: #808080; stroke-width: 1.5; stroke-linejoin: miter; fill-opacity: 0.6; stroke-opacity: 0.6" />
</g>
<g>
<path d="M 255.12 416.64 L 260.4 416.64 L 260.4 372 L 255.12 372 z" clip-path="url(#pf68f70f5b5)" style="fill: #ff0000; stroke: #808080; stroke-width: 1.5; stroke-linejoin: miter; fill-opacity: 0.6; stroke-opacity: 0.6" />
</g>
<g>
<path d="M 264.72 416.64 L 270 416.64 L 270 426.72 L 264.72 426.72 z" clip-path="url(#pf68f70f5b5)" style="fill: #0000ff; stroke: #808080; stroke-width: 1.5; stroke-linejoin: miter; fill-opacity: 0.6; stroke-opacity: 0.6" />
</g>
<g>
<path d="M 274.32 416.64 L 279.6 416.64 L 279.6 410.4 L 274.32 410.4 z" clip-path="url(#pf68f70f5b5)" style="fill: #ff0000; stroke: #808080; stroke-width: 1.5; stroke-linejoin: miter; fill-opacity: 0.6; stroke-opacity: 0.6" />
</g>
<g>
<path d="M 283.68 416.64 L 288.96 416.64 L 288.96 408 L 283.68 408 z" clip-path="url(#pf68f70f5b5)" style="fill: #ff0000; stroke: #808080; stroke-width: 1.5; stroke-linejoin: miter; fill-opacity: 0.6; stroke-opacity: 0.6" />
</g>
<g>
<path d="M 293.28 416.64 L 298.56 416.64 L 298.56 387.12 L 293.28 387.12 z" clip-path="url(#pf68f70f5b5)" style="fill: #ff0000; stroke: #808080; stroke-width: 1.5; stroke-linejoin: miter; fill-opacity: 0.6; stroke-opacity: 0.6" />
</g>
<g>
<path d="M 302.88 416.64 L 308.16 416.64 L 308.16 440.16 L 302.88 440.16 z" clip-path="url(#pf68f70f5b5)" style="fill: #0000ff; stroke: #808080; stroke-width: 1.5; stroke-linejoin: miter; fill-opacity: 0.6; stroke-opacity: 0.6" />
</g>
<g>
<path d="M 312.24 416.64 L 317.52 416.64 L 317.52 389.76 L 312.24 389.76 z" clip-path="url(#pf68f70f5b5)" style="fill: #ff0000; stroke: #808080; stroke-width: 1.5; stroke-linejoin: miter; fill-opacity: 0.6; stroke-opacity: 0.6" />
</g>
<g>
<path d="M 321.84 416.64 L 327.12 416.64 L 327.12 438 L 321.84 438 z" clip-path="url(#pf68f70f5b5)" style="fill: #0000ff; stroke: #808080; stroke-width: 1.5; stroke-linejoin: miter; fill-opacity: 0.6; stroke-opacity: 0.6" />
</g>
<g>
<path d="M 331.44 416.64 L 336.72 416.64 L 336.72 430.08 L 331.44 430.08 z" clip-path="url(#pf68f70f5b5)" style="fill: #0000ff; stroke: #808080; stroke-width: 1.5; stroke-linejoin: miter; fill-opacity: 0.6; stroke-opacity: 0.6" />
</g>
<g>
<path d="M 341.04 416.64 L 346.08 416.64 L 346.08 391.68 L 341.04 391.68 z" clip-path="url(#pf68f70f5b5)" style="fill: #ff0000; stroke: #808080; stroke-width: 1.5; stroke-linejoin: miter; fill-opacity: 0.6; stroke-opacity: 0.6" />
</g>
<g>
<path d="M 350.4 416.64 L 355.68 416.64 L 355.68 433.44 L 350.4 433.44 z" clip-path="url(#pf68f70f5b5)" style="fill: #0000ff; stroke: #808080; stroke-width: 1.5; stroke-linejoin: miter; fill-opacity: 0.6; stroke-opacity: 0.6" />
</g>
<g>
<path d="M 360 416.64 L 365.28 416.64 L 365.28 407.04 L 360 407.04 z" clip-path="url(#pf68f70f5b5)" style="fill: #ff0000; stroke: #808080; stroke-width: 1.5; stroke-linejoin: miter; fill-opacity: 0.6; stroke-opacity: 0.6" />
</g>
<g>
<path d="M 369.6 416.64 L 374.88 416.64 L 374.88 407.04 L 369.6 407.04 z" clip-path="url(#pf68f70f5b5)" style="fill: #ff0000; stroke: #808080; stroke-width: 1.5; stroke-linejoin: miter; fill-opacity: 0.6; stroke-opacity: 0.6" />
</g>
<g>
<path d="M 378.96 416.64 L 384.24 416.64 L 384.24 433.44 L 378.96 433.44 z" clip-path="url(#pf68f70f5b5)" style="fill: #0000ff; stroke: #808080; stroke-width: 1.5; stroke-linejoin: miter; fill-opacity: 0.6; stroke-opacity: 0.6" />
</g>
<g>
<path d="M 388.56 416.64 L 393.84 416.64 L 393.84 369.6 L 388.56 369.6 z" clip-path="url(#pf68f70f5b5)" style="fill: #ff0000; stroke: #808080; stroke-width: 1.5; stroke-linejoin: miter; fill-opacity: 0.6; stroke-opacity: 0.6" />
</g>
<g>
<path d="M 398.16 416.64 L 403.44 416.64 L 403.44 411.6 L 398.16 411.6 z" clip-path="url(#pf68f70f5b5)" style="fill: #ff0000; stroke: #808080; stroke-width: 1.5; stroke-linejoin: miter; fill-opacity: 0.6; stroke-opacity: 0.6" />
</g>
<g>
<path d="M 407.76 416.64 L 412.8 416.64 L 412.8 418.32 L 407.76 418.32 z" clip-path="url(#pf68f70f5b5)" style="fill: #0000ff; stroke: #808080; stroke-width: 1.5; stroke-linejoin: miter; fill-opacity: 0.6; stroke-opacity: 0.6" />
</g>
<g>
<path d="M 417.12 416.64 L 422.4 416.64 L 422.4 418.8 L 417.12 418.8 z" clip-path="url(#pf68f70f5b5)" style="fill: #0000ff; stroke: #808080; stroke-width: 1.5; stroke-linejoin: miter; fill-opacity: 0.6; stroke-opacity: 0.6" />
</g>
<g>
<path d="M 426.72 416.64 L 432 416.64 L 432 409.92 L 426.72 409.92 z" clip-path="url(#pf68f70f5b5)" style="fill: #ff0000; stroke: #808080; stroke-width: 1.5; stroke-linejoin: miter; fill-opacity: 0.6; stroke-opacity: 0.6" />
</g>
<g>
<path d="M 436.32 416.64 L 441.6 416.64 L 441.6 387.6 L 436.32 387.6 z" clip-path="url(#pf68f70f5b5)" style="fill: #ff0000; stroke: #808080; stroke-width: 1.5; stroke-linejoin: miter; fill-opacity: 0.6; stroke-opacity: 0.6" />
</g>
<g>
<path d="M 445.68 416.64 L 450.96 416.64 L 450.96 419.52 L 445.68 419.52 z" clip-path="url(#pf68f70f5b5)" style="fill: #0000ff; stroke: #808080; stroke-width: 1.5; stroke-linejoin: miter; fill-opacity: 0.6; stroke-opacity: 0.6" />
</g>
<g>
<path d="M 455.28 416.64 L 460.56 416.64 L 460.56 362.4 L 455.28 362.4 z" clip-path="url(#pf68f70f5b5)" style="fill: #ff0000; stroke: #808080; stroke-width: 1.5; stroke-linejoin: miter; fill-opacity: 0.6; stroke-opacity: 0.6" />
</g>
<g>
<path d="M 464.88 416.64 L 470.16 416.64 L 470.16 418.56 L 464.88 418.56 z" clip-path="url(#pf68f70f5b5)" style="fill: #0000ff; stroke: #808080; stroke-width: 1.5; stroke-linejoin: miter; fill-opacity: 0.6; stroke-opacity: 0.6" />
</g>
<g>
<path d="M 474.48 416.64 L 479.52 416.64 L 479.52 396.96 L 474.48 396.96 z" clip-path="url(#pf68f70f5b5)" style="fill: #ff0000; stroke: #808080; stroke-width: 1.5; stroke-linejoin: miter; fill-opacity: 0.6; stroke-opacity: 0.6" />
</g>
<g>
<path d="M 483.84 416.64 L 489.12 416.64 L 489.12 431.76 L 483.84 431.76 z" clip-path="url(#pf68f70f5b5)" style="fill: #0000ff; stroke: #808080; stroke-width: 1.5; stroke-linejoin: miter; fill-opacity: 0.6; stroke-opacity: 0.6" />
</g>
<g>
<path d="M 493.44 416.64 L 498.72 416.64 L 498.72 418.08 L 493.44 418.08 z" clip-path="url(#pf68f70f5b5)" style="fill: #0000ff; stroke: #808080; stroke-width: 1.5; stroke-linejoin: miter; fill-opacity: 0.6; stroke-opacity: 0.6" />
</g>
<g>
<path d="M 503.04 416.64 L 508.32 416.64 L 508.32 426.72 L 503.04 426.72 z" clip-path="url(#pf68f70f5b5)" style="fill: #0000ff; stroke: #808080; stroke-width: 1.5; stroke-linejoin: miter; fill-opacity: 0.6; stroke-opacity: 0.6" />
</g>
<g>
<path d="M 512.4 416.64 L 517.68 416.64 L 517.68 359.28 L 512.4 359.28 z" clip-path="url(#pf68f70f5b5)" style="fill: #ff0000; stroke: #808080; stroke-width: 1.5; stroke-linejoin: miter; fill-opacity: 0.6; stroke-opacity: 0.6" />
</g>
<g>
<path d="M 522 416.64 L 527.28 416.64 L 527.28 431.52 L 522 431.52 z" clip-path="url(#pf68f70f5b5)" style="fill: #0000ff; stroke: #808080; stroke-width: 1.5; stroke-linejoin: miter; fill-opacity: 0.6; stroke-opacity: 0.6" />
</g>
<g>
<path d="M 531.6 416.64 L 536.88 416.64 L 536.88 410.16 L 531.6 410.16 z" clip-path="url(#pf68f70f5b5)" style="fill: #ff0000; stroke: #808080; stroke-width: 1.5; stroke-linejoin: miter; fill-opacity: 0.6; stroke-opacity: 0.6" />
</g>
<g>
<path d="M 541.2 416.64 L 546.24 416.64 L 546.24 326.64 L 541.2 326.64 z" clip-path="url(#pf68f70f5b5)" style="fill: #ff0000; stroke: #808080; stroke-width: 1.5; stroke-linejoin: miter; fill-opacity: 0.6; stroke-opacity: 0.6" />
</g>
<g>
<path d="M 550.56 416.64 L 555.84 416.64 L 555.84 456.24 L 550.56 456.24 z" clip-path="url(#pf68f70f5b5)" style="fill: #0000ff; stroke: #808080; stroke-width: 1.5; stroke-linejoin: miter; fill-opacity: 0.6; stroke-opacity: 0.6" />
</g>
<g>
<path d="M 560.16 416.64 L 565.44 416.64 L 565.44 392.64 L 560.16 392.64 z" clip-path="url(#pf68f70f5b5)" style="fill: #ff0000; stroke: #808080; stroke-width: 1.5; stroke-linejoin: miter; fill-opacity: 0.6; stroke-opacity: 0.6" />
</g>
<g>
<path d="M 569.76 416.64 L 575.04 416.64 L 575.04 504.48 L 569.76 504.48 z" clip-path="url(#pf68f70f5b5)" style="fill: #0000ff; stroke: #808080; stroke-width: 1.5; stroke-linejoin: miter; fill-opacity: 0.6; stroke-opacity: 0.6" />
</g>
<g>
<path d="M 579.12 416.64 L 584.4 416.64 L 584.4 456.72 L 579.12 456.72 z" clip-path="url(#pf68f70f5b5)" style="fill: #0000ff; stroke: #808080; stroke-width: 1.5; stroke-linejoin: miter; fill-opacity: 0.6; stroke-opacity: 0.6" />
</g>
<g>
<path d="M 588.72 416.64 L 594 416.64 L 594 413.76 L 588.72 413.76 z" clip-path="url(#pf68f70f5b5)" style="fill: #ff0000; stroke: #808080; stroke-width: 1.5; stroke-linejoin: miter; fill-opacity: 0.6; stroke-opacity: 0.6" />
</g>
<g>
<path d="M 598.32 416.64 L 603.6 416.64 L 603.6 435.36 L 598.32 435.36 z" clip-path="url(#pf68f70f5b5)" style="fill: #0000ff; stroke: #808080; stroke-width: 1.5; stroke-linejoin: miter; fill-opacity: 0.6; stroke-opacity: 0.6" />
</g>
<g>
<path d="M 607.92 416.64 L 612.96 416.64 L 612.96 402.48 L 607.92 402.48 z" clip-path="url(#pf68f70f5b5)" style="fill: #ff0000; stroke: #808080; stroke-width: 1.5; stroke-linejoin: miter; fill-opacity: 0.6; stroke-opacity: 0.6" />
</g>
<g>
<path d="M 617.28 416.64 L 622.56 416.64 L 622.56 456.48 L 617.28 456.48 z" clip-path="url(#pf68f70f5b5)" style="fill: #0000ff; stroke: #808080; stroke-width: 1.5; stroke-linejoin: miter; fill-opacity: 0.6; stroke-opacity: 0.6" />
</g>
<g>
<path d="M 626.88 416.64 L 632.16 416.64 L 632.16 450.48 L 626.88 450.48 z" clip-path="url(#pf68f70f5b5)" style="fill: #0000ff; stroke: #808080; stroke-width: 1.5; stroke-linejoin: miter; fill-opacity: 0.6; stroke-opacity: 0.6" />
</g>
<g>
<path d="M 636.48 416.64 L 641.76 416.64 L 641.76 448.56 L 636.48 448.56 z" clip-path="url(#pf68f70f5b5)" style="fill: #0000ff; stroke: #808080; stroke-width: 1.5; stroke-linejoin: miter; fill-opacity: 0.6; stroke-opacity: 0.6" />
</g>
<g>
<path d="M 645.84 416.64 L 651.12 416.64 L 651.12 404.4 L 645.84 404.4 z" clip-path="url(#pf68f70f5b5)" style="fill: #ff0000; stroke: #808080; stroke-width: 1.5; stroke-linejoin: miter; fill-opacity: 0.6; stroke-opacity: 0.6" />
</g>
<g>
<path d="M 655.44 416.64 L 660.72 416.64 L 660.72 450.48 L 655.44 450.48 z" clip-path="url(#pf68f70f5b5)" style="fill: #0000ff; stroke: #808080; stroke-width: 1.5; stroke-linejoin: miter; fill-opacity: 0.6; stroke-opacity: 0.6" />
</g>
<g>
<path d="M 665.04 416.64 L 670.32 416.64 L 670.32 408.48 L 665.04 408.48 z" clip-path="url(#pf68f70f5b5)" style="fill: #ff0000; stroke: #808080; stroke-width: 1.5; stroke-linejoin: miter; fill-opacity: 0.6; stroke-opacity: 0.6" />
</g>
<g>
<path d="M 674.64 416.64 L 679.68 416.64 L 679.68 400.32 L 674.64 400.32 z" clip-path="url(#pf68f70f5b5)" style="fill: #ff0000; stroke: #808080; stroke-width: 1.5; stroke-linejoin: miter; fill-opacity: 0.6; stroke-opacity: 0.6" />
</g>
<g>
<path d="M 91.56 416.76 L 96.84 416.76 L 96.84 416.28 L 91.56 416.28 z" clip-path="url(#pf68f70f5b5)" style="fill: url(#ha8ac74c9a2); stroke: #000000; stroke-width: 0.8; stroke-linejoin: miter; stroke-opacity: 0.6" />
</g>
<g>
<path d="M 101.16 416.76 L 106.44 416.76 L 106.44 413.64 L 101.16 413.64 z" clip-path="url(#pf68f70f5b5)" style="fill: url(#ha8ac74c9a2); stroke: #000000; stroke-width: 0.8; stroke-linejoin: miter; stroke-opacity: 0.6" />
</g>
<g>
<path d="M 110.52 416.76 L 115.8 416.76 L 115.8 418.2 L 110.52 418.2 z" clip-path="url(#pf68f70f5b5)" style="fill: url(#he7174bcf4e); stroke: #000000; stroke-width: 0.8; stroke-linejoin: miter; stroke-opacity: 0.6" />
</g>
<g>
<path d="M 120.12 416.76 L 125.4 416.76 L 125.4 408.6 L 120.12 408.6 z" clip-path="url(#pf68f70f5b5)" style="fill: url(#ha8ac74c9a2); stroke: #000000; stroke-width: 0.8; stroke-linejoin: miter; stroke-opacity: 0.6" />
</g>
<g>
<path d="M 129.72 416.76 L 135 416.76 L 135 412.92 L 129.72 412.92 z" clip-path="url(#pf68f70f5b5)" style="fill: url(#ha8ac74c9a2); stroke: #000000; stroke-width: 0.8; stroke-linejoin: miter; stroke-opacity: 0.6" />
</g>
<g>
<path d="M 139.32 416.76 L 144.36 416.76 L 144.36 417.96 L 139.32 417.96 z" clip-path="url(#pf68f70f5b5)" style="fill: url(#he7174bcf4e); stroke: #000000; stroke-width: 0.8; stroke-linejoin: miter; stroke-opacity: 0.6" />
</g>
<g>
<path d="M 148.68 416.76 L 153.96 416.76 L 153.96 415.56 L 148.68 415.56 z" clip-path="url(#pf68f70f5b5)" style="fill: url(#ha8ac74c9a2); stroke: #000000; stroke-width: 0.8; stroke-linejoin: miter; stroke-opacity: 0.6" />
</g>
<g>
<path d="M 158.28 416.76 L 163.56 416.76 L 163.56 415.8 L 158.28 415.8 z" clip-path="url(#pf68f70f5b5)" style="fill: url(#ha8ac74c9a2); stroke: #000000; stroke-width: 0.8; stroke-linejoin: miter; stroke-opacity: 0.6" />
</g>
<g>
<path d="M 167.88 416.76 L 173.16 416.76 L 173.16 413.88 L 167.88 413.88 z" clip-path="url(#pf68f70f5b5)" style="fill: url(#ha8ac74c9a2); stroke: #000000; stroke-width: 0.8; stroke-linejoin: miter; stroke-opacity: 0.6" />
</g>
<g>
<path d="M 177.24 416.76 L 182.52 416.76 L 182.52 411.96 L 177.24 411.96 z" clip-path="url(#pf68f70f5b5)" style="fill: url(#ha8ac74c9a2); stroke: #000000; stroke-width: 0.8; stroke-linejoin: miter; stroke-opacity: 0.6" />
</g>
<g>
<path d="M 186.84 416.76 L 192.12 416.76 L 192.12 415.32 L 186.84 415.32 z" clip-path="url(#pf68f70f5b5)" style="fill: url(#ha8ac74c9a2); stroke: #000000; stroke-width: 0.8; stroke-linejoin: miter; stroke-opacity: 0.6" />
</g>
<g>
<path d="M 196.44 416.76 L 201.72 416.76 L 201.72 416.04 L 196.44 416.04 z" clip-path="url(#pf68f70f5b5)" style="fill: url(#ha8ac74c9a2); stroke: #000000; stroke-width: 0.8; stroke-linejoin: miter; stroke-opacity: 0.6" />
</g>
<g>
<path d="M 206.04 416.76 L 211.08 416.76 L 211.08 414.12 L 206.04 414.12 z" clip-path="url(#pf68f70f5b5)" style="fill: url(#ha8ac74c9a2); stroke: #000000; stroke-width: 0.8; stroke-linejoin: miter; stroke-opacity: 0.6" />
</g>
<g>
<path d="M 215.4 416.76 L 220.68 416.76 L 220.68 415.08 L 215.4 415.08 z" clip-path="url(#pf68f70f5b5)" style="fill: url(#ha8ac74c9a2); stroke: #000000; stroke-width: 0.8; stroke-linejoin: miter; stroke-opacity: 0.6" />
</g>
<g>
<path d="M 225 416.76 L 230.28 416.76 L 230.28 417.24 L 225 417.24 z" clip-path="url(#pf68f70f5b5)" style="fill: url(#he7174bcf4e); stroke: #000000; stroke-width: 0.8; stroke-linejoin: miter; stroke-opacity: 0.6" />
</g>
<g>
<path d="M 234.6 416.76 L 239.88 416.76 L 239.88 417.24 L 234.6 417.24 z" clip-path="url(#pf68f70f5b5)" style="fill: url(#he7174bcf4e); stroke: #000000; stroke-width: 0.8; stroke-linejoin: miter; stroke-opacity: 0.6" />
</g>
<g>
<path d="M 243.96 416.76 L 249.24 416.76 L 249.24 416.76 L 243.96 416.76 z" clip-path="url(#pf68f70f5b5)" style="fill: url(#ha8ac74c9a2); stroke: #000000; stroke-width: 0.8; stroke-linejoin: miter; stroke-opacity: 0.6" />
</g>
<g>
<path d="M 253.56 416.76 L 258.84 416.76 L 258.84 417.48 L 253.56 417.48 z" clip-path="url(#pf68f70f5b5)" style="fill: url(#he7174bcf4e); stroke: #000000; stroke-width: 0.8; stroke-linejoin: miter; stroke-opacity: 0.6" />
</g>
<g>
<path d="M 263.16 416.76 L 268.44 416.76 L 268.44 414.36 L 263.16 414.36 z" clip-path="url(#pf68f70f5b5)" style="fill: url(#ha8ac74c9a2); stroke: #000000; stroke-width: 0.8; stroke-linejoin: miter; stroke-opacity: 0.6" />
</g>
<g>
<path d="M 272.76 416.76 L 277.8 416.76 L 277.8 418.2 L 272.76 418.2 z" clip-path="url(#pf68f70f5b5)" style="fill: url(#he7174bcf4e); stroke: #000000; stroke-width: 0.8; stroke-linejoin: miter; stroke-opacity: 0.6" />
</g>
<g>
<path d="M 282.12 416.76 L 287.4 416.76 L 287.4 417.72 L 282.12 417.72 z" clip-path="url(#pf68f70f5b5)" style="fill: url(#he7174bcf4e); stroke: #000000; stroke-width: 0.8; stroke-linejoin: miter; stroke-opacity: 0.6" />
</g>
<g>
<path d="M 291.72 416.76 L 297 416.76 L 297 420.6 L 291.72 420.6 z" clip-path="url(#pf68f70f5b5)" style="fill: url(#he7174bcf4e); stroke: #000000; stroke-width: 0.8; stroke-linejoin: miter; stroke-opacity: 0.6" />
</g>
<g>
<path d="M 301.32 416.76 L 306.6 416.76 L 306.6 416.76 L 301.32 416.76 z" clip-path="url(#pf68f70f5b5)" style="fill: url(#ha8ac74c9a2); stroke: #000000; stroke-width: 0.8; stroke-linejoin: miter; stroke-opacity: 0.6" />
</g>
<g>
<path d="M 310.68 416.76 L 315.96 416.76 L 315.96 421.08 L 310.68 421.08 z" clip-path="url(#pf68f70f5b5)" style="fill: url(#he7174bcf4e); stroke: #000000; stroke-width: 0.8; stroke-linejoin: miter; stroke-opacity: 0.6" />
</g>
<g>
<path d="M 320.28 416.76 L 325.56 416.76 L 325.56 414.6 L 320.28 414.6 z" clip-path="url(#pf68f70f5b5)" style="fill: url(#ha8ac74c9a2); stroke: #000000; stroke-width: 0.8; stroke-linejoin: miter; stroke-opacity: 0.6" />
</g>
<g>
<path d="M 329.88 416.76 L 335.16 416.76 L 335.16 417.48 L 329.88 417.48 z" clip-path="url(#pf68f70f5b5)" style="fill: url(#he7174bcf4e); stroke: #000000; stroke-width: 0.8; stroke-linejoin: miter; stroke-opacity: 0.6" />
</g>
<g>
<path d="M 339.24 416.76 L 344.52 416.76 L 344.52 422.28 L 339.24 422.28 z" clip-path="url(#pf68f70f5b5)" style="fill: url(#he7174bcf4e); stroke: #000000; stroke-width: 0.8; stroke-linejoin: miter; stroke-opacity: 0.6" />
</g>
<g>
<path d="M 348.84 416.76 L 354.12 416.76 L 354.12 417.72 L 348.84 417.72 z" clip-path="url(#pf68f70f5b5)" style="fill: url(#he7174bcf4e); stroke: #000000; stroke-width: 0.8; stroke-linejoin: miter; stroke-opacity: 0.6" />
</g>
<g>
<path d="M 358.44 416.76 L 363.72 416.76 L 363.72 418.2 L 358.44 418.2 z" clip-path="url(#pf68f70f5b5)" style="fill: url(#he7174bcf4e); stroke: #000000; stroke-width: 0.8; stroke-linejoin: miter; stroke-opacity: 0.6" />
</g>
<g>
<path d="M 368.04 416.76 L 373.32 416.76 L 373.32 422.52 L 368.04 422.52 z" clip-path="url(#pf68f70f5b5)" style="fill: url(#he7174bcf4e); stroke: #000000; stroke-width: 0.8; stroke-linejoin: miter; stroke-opacity: 0.6" />
</g>
<g>
<path d="M 377.4 416.76 L 382.68 416.76 L 382.68 416.76 L 377.4 416.76 z" clip-path="url(#pf68f70f5b5)" style="fill: url(#ha8ac74c9a2); stroke: #000000; stroke-width: 0.8; stroke-linejoin: miter; stroke-opacity: 0.6" />
</g>
<g>
<path d="M 387 416.76 L 392.28 416.76 L 392.28 428.28 L 387 428.28 z" clip-path="url(#pf68f70f5b5)" style="fill: url(#he7174bcf4e); stroke: #000000; stroke-width: 0.8; stroke-linejoin: miter; stroke-opacity: 0.6" />
</g>
<g>
<path d="M 396.6 416.76 L 401.88 416.76 L 401.88 425.4 L 396.6 425.4 z" clip-path="url(#pf68f70f5b5)" style="fill: url(#he7174bcf4e); stroke: #000000; stroke-width: 0.8; stroke-linejoin: miter; stroke-opacity: 0.6" />
</g>
<g>
<path d="M 405.96 416.76 L 411.24 416.76 L 411.24 431.4 L 405.96 431.4 z" clip-path="url(#pf68f70f5b5)" style="fill: url(#he7174bcf4e); stroke: #000000; stroke-width: 0.8; stroke-linejoin: miter; stroke-opacity: 0.6" />
</g>
<g>
<path d="M 415.56 416.76 L 420.84 416.76 L 420.84 434.04 L 415.56 434.04 z" clip-path="url(#pf68f70f5b5)" style="fill: url(#he7174bcf4e); stroke: #000000; stroke-width: 0.8; stroke-linejoin: miter; stroke-opacity: 0.6" />
</g>
<g>
<path d="M 425.16 416.76 L 430.44 416.76 L 430.44 420.84 L 425.16 420.84 z" clip-path="url(#pf68f70f5b5)" style="fill: url(#he7174bcf4e); stroke: #000000; stroke-width: 0.8; stroke-linejoin: miter; stroke-opacity: 0.6" />
</g>
<g>
<path d="M 434.76 416.76 L 440.04 416.76 L 440.04 423 L 434.76 423 z" clip-path="url(#pf68f70f5b5)" style="fill: url(#he7174bcf4e); stroke: #000000; stroke-width: 0.8; stroke-linejoin: miter; stroke-opacity: 0.6" />
</g>
<g>
<path d="M 444.12 416.76 L 449.4 416.76 L 449.4 429 L 444.12 429 z" clip-path="url(#pf68f70f5b5)" style="fill: url(#he7174bcf4e); stroke: #000000; stroke-width: 0.8; stroke-linejoin: miter; stroke-opacity: 0.6" />
</g>
<g>
<path d="M 453.72 416.76 L 459 416.76 L 459 424.92 L 453.72 424.92 z" clip-path="url(#pf68f70f5b5)" style="fill: url(#he7174bcf4e); stroke: #000000; stroke-width: 0.8; stroke-linejoin: miter; stroke-opacity: 0.6" />
</g>
<g>
<path d="M 463.32 416.76 L 468.6 416.76 L 468.6 423.72 L 463.32 423.72 z" clip-path="url(#pf68f70f5b5)" style="fill: url(#he7174bcf4e); stroke: #000000; stroke-width: 0.8; stroke-linejoin: miter; stroke-opacity: 0.6" />
</g>
<g>
<path d="M 472.68 416.76 L 477.96 416.76 L 477.96 431.64 L 472.68 431.64 z" clip-path="url(#pf68f70f5b5)" style="fill: url(#he7174bcf4e); stroke: #000000; stroke-width: 0.8; stroke-linejoin: miter; stroke-opacity: 0.6" />
</g>
<g>
<path d="M 482.28 416.76 L 487.56 416.76 L 487.56 420.84 L 482.28 420.84 z" clip-path="url(#pf68f70f5b5)" style="fill: url(#he7174bcf4e); stroke: #000000; stroke-width: 0.8; stroke-linejoin: miter; stroke-opacity: 0.6" />
</g>
<g>
<path d="M 491.88 416.76 L 497.16 416.76 L 497.16 414.36 L 491.88 414.36 z" clip-path="url(#pf68f70f5b5)" style="fill: url(#ha8ac74c9a2); stroke: #000000; stroke-width: 0.8; stroke-linejoin: miter; stroke-opacity: 0.6" />
</g>
<g>
<path d="M 501.48 416.76 L 506.76 416.76 L 506.76 403.56 L 501.48 403.56 z" clip-path="url(#pf68f70f5b5)" style="fill: url(#ha8ac74c9a2); stroke: #000000; stroke-width: 0.8; stroke-linejoin: miter; stroke-opacity: 0.6" />
</g>
<g>
<path d="M 510.84 416.76 L 516.12 416.76 L 516.12 424.44 L 510.84 424.44 z" clip-path="url(#pf68f70f5b5)" style="fill: url(#he7174bcf4e); stroke: #000000; stroke-width: 0.8; stroke-linejoin: miter; stroke-opacity: 0.6" />
</g>
<g>
<path d="M 520.44 416.76 L 525.72 416.76 L 525.72 422.76 L 520.44 422.76 z" clip-path="url(#pf68f70f5b5)" style="fill: url(#he7174bcf4e); stroke: #000000; stroke-width: 0.8; stroke-linejoin: miter; stroke-opacity: 0.6" />
</g>
<g>
<path d="M 530.04 416.76 L 535.32 416.76 L 535.32 384.84 L 530.04 384.84 z" clip-path="url(#pf68f70f5b5)" style="fill: url(#ha8ac74c9a2); stroke: #000000; stroke-width: 0.8; stroke-linejoin: miter; stroke-opacity: 0.6" />
</g>
<g>
<path d="M 539.4 416.76 L 544.68 416.76 L 544.68 405.96 L 539.4 405.96 z" clip-path="url(#pf68f70f5b5)" style="fill: url(#ha8ac74c9a2); stroke: #000000; stroke-width: 0.8; stroke-linejoin: miter; stroke-opacity: 0.6" />
</g>
<g>
<path d="M 549 416.76 L 554.28 416.76 L 554.28 409.8 L 549 409.8 z" clip-path="url(#pf68f70f5b5)" style="fill: url(#ha8ac74c9a2); stroke: #000000; stroke-width: 0.8; stroke-linejoin: miter; stroke-opacity: 0.6" />
</g>
<g>
<path d="M 558.6 416.76 L 563.88 416.76 L 563.88 425.16 L 558.6 425.16 z" clip-path="url(#pf68f70f5b5)" style="fill: url(#he7174bcf4e); stroke: #000000; stroke-width: 0.8; stroke-linejoin: miter; stroke-opacity: 0.6" />
</g>
<g>
<path d="M 568.2 416.76 L 573.24 416.76 L 573.24 376.44 L 568.2 376.44 z" clip-path="url(#pf68f70f5b5)" style="fill: url(#ha8ac74c9a2); stroke: #000000; stroke-width: 0.8; stroke-linejoin: miter; stroke-opacity: 0.6" />
</g>
<g>
<path d="M 577.56 416.76 L 582.84 416.76 L 582.84 406.2 L 577.56 406.2 z" clip-path="url(#pf68f70f5b5)" style="fill: url(#ha8ac74c9a2); stroke: #000000; stroke-width: 0.8; stroke-linejoin: miter; stroke-opacity: 0.6" />
</g>
<g>
<path d="M 587.16 416.76 L 592.44 416.76 L 592.44 422.04 L 587.16 422.04 z" clip-path="url(#pf68f70f5b5)" style="fill: url(#he7174bcf4e); stroke: #000000; stroke-width: 0.8; stroke-linejoin: miter; stroke-opacity: 0.6" />
</g>
<g>
<path d="M 596.76 416.76 L 602.04 416.76 L 602.04 417.24 L 596.76 417.24 z" clip-path="url(#pf68f70f5b5)" style="fill: url(#he7174bcf4e); stroke: #000000; stroke-width: 0.8; stroke-linejoin: miter; stroke-opacity: 0.6" />
</g>
<g>
<path d="M 606.12 416.76 L 611.4 416.76 L 611.4 419.4 L 606.12 419.4 z" clip-path="url(#pf68f70f5b5)" style="fill: url(#he7174bcf4e); stroke: #000000; stroke-width: 0.8; stroke-linejoin: miter; stroke-opacity: 0.6" />
</g>
<g>
<path d="M 615.72 416.76 L 621 416.76 L 621 409.08 L 615.72 409.08 z" clip-path="url(#pf68f70f5b5)" style="fill: url(#ha8ac74c9a2); stroke: #000000; stroke-width: 0.8; stroke-linejoin: miter; stroke-opacity: 0.6" />
</g>
<g>
<path d="M 625.32 416.76 L 630.6 416.76 L 630.6 401.88 L 625.32 401.88 z" clip-path="url(#pf68f70f5b5)" style="fill: url(#ha8ac74c9a2); stroke: #000000; stroke-width: 0.8; stroke-linejoin: miter; stroke-opacity: 0.6" />
</g>
<g>
<path d="M 634.92 416.76 L 639.96 416.76 L 639.96 405.24 L 634.92 405.24 z" clip-path="url(#pf68f70f5b5)" style="fill: url(#ha8ac74c9a2); stroke: #000000; stroke-width: 0.8; stroke-linejoin: miter; stroke-opacity: 0.6" />
</g>
<g>
<path d="M 644.28 416.76 L 649.56 416.76 L 649.56 419.88 L 644.28 419.88 z" clip-path="url(#pf68f70f5b5)" style="fill: url(#he7174bcf4e); stroke: #000000; stroke-width: 0.8; stroke-linejoin: miter; stroke-opacity: 0.6" />
</g>
<g>
<path d="M 653.88 416.76 L 659.16 416.76 L 659.16 409.32 L 653.88 409.32 z" clip-path="url(#pf68f70f5b5)" style="fill: url(#ha8ac74c9a2); stroke: #000000; stroke-width: 0.8; stroke-linejoin: miter; stroke-opacity: 0.6" />
</g>
<g>
<path d="M 663.48 416.76 L 668.76 416.76 L 668.76 417.96 L 663.48 417.96 z" clip-path="url(#pf68f70f5b5)" style="fill: url(#he7174bcf4e); stroke: #000000; stroke-width: 0.8; stroke-linejoin: miter; stroke-opacity: 0.6" />
</g>
<g>
<path d="M 672.84 416.76 L 678.12 416.76 L 678.12 420.36 L 672.84 420.36 z" clip-path="url(#pf68f70f5b5)" style="fill: url(#he7174bcf4e); stroke: #000000; stroke-width: 0.8; stroke-linejoin: miter; stroke-opacity: 0.6" />
</g>
<g>
<g>
<g>
<path d="M 92.28 513.96 L 92.28 306.36" clip-path="url(#pf68f70f5b5)" style="fill: none; stroke: #b0b0b0; stroke-opacity: 0.3; stroke-width: 0.8; stroke-linecap: square" />
</g>
<g>
<g>
<path d="M 92.28 513.96 L 92.28 517.56" style="stroke: #000000; stroke-width: 0.8" />
</g>
</g>
<g>
<text style="font-size: 10px; font-family: 'DejaVu Sans', 'Liberation Sans', sans-serif" transform="translate(79.53688 555.99743) rotate(-45)">2019-11</text>
</g>
</g>
<g>
<g>
<path d="M 133.32 513.96 L 133.32 306.36" clip-path="url(#pf68f70f5b5)" style="fill: none; stroke: #b0b0b0; stroke-opacity: 0.3; stroke-width: 0.8; stroke-linecap: square" />
</g>
<g>
<g>
<path d="M 133.32 513.96 L 133.32 517.56" style="stroke: #000000; stroke-width: 0.8" />
</g>
</g>
<g>
<text style="font-size: 10px; font-family: 'DejaVu Sans', 'Liberation Sans', sans-serif" transform="translate(120.39466 555.97622) rotate(-45)">2019-12</text>
</g>
</g>
<g>
<g>
<path d="M 175.32 513.96 L 175.32 306.36" clip-path="url(#pf68f70f5b5)" style="fill: none; stroke: #b0b0b0; stroke-opacity: 0.3; stroke-width: 0.8; stroke-linecap: square" />
</g>
<g>
<g>
<path d="M 175.32 513.96 L 175.32 517.56" style="stroke: #000000; stroke-width: 0.8" />
</g>
</g>
<g>
<text style="font-size: 10px; font-family: 'DejaVu Sans', 'Liberation Sans', sans-serif" transform="translate(162.59280 555.99743) rotate(-45)">2020-01</text>
</g>
</g>
<g>
<g>
<path d="M 217.56 513.96 L 217.56 306.36" clip-path="url(#pf68f70f5b5)" style="fill: none; stroke: #b0b0b0; stroke-opacity: 0.3; stroke-width: 0.8; stroke-linecap: square" />
</g>
<g>
<g>
<path d="M 217.56 513.96 L 217.56 517.56" style="stroke: #000000; stroke-width: 0.8" />
</g>
</g>
<g>
<text style="font-size: 10px; font-family: 'DejaVu Sans', 'Liberation Sans', sans-serif" transform="translate(204.81215 555.97622) rotate(-45)">2020-02</text>
</g>
</g>
<g>
<g>
<path d="M 257.16 513.96 L 257.16 306.36" clip-path="url(#pf68f70f5b5)" style="fill: none; stroke: #b0b0b0; stroke-opacity: 0.3; stroke-width: 0.8; stroke-linecap: square" />
</g>
<g>
<g>
<path d="M 257.16 513.96 L 257.16 517.56" style="stroke: #000000; stroke-width: 0.8" />
</g>
</g>
<g>
<text style="font-size: 10px; font-family: 'DejaVu Sans', 'Liberation Sans', sans-serif" transform="translate(244.27654 556.01865) rotate(-45)">2020-03</text>
</g>
</g>
<g>
<g>
<path d="M 299.4 513.96 L 299.4 306.36" clip-path="url(#pf68f70f5b5)" style="fill: none; stroke: #b0b0b0; stroke-opacity: 0.3; stroke-width: 0.8; stroke-linecap: square" />
</g>
<g>
<g>
<path d="M 299.4 513.96 L 299.4 517.56" style="stroke: #000000; stroke-width: 0.8" />
</g>
</g>
<g>
<text style="font-size: 10px; font-family: 'DejaVu Sans', 'Liberation Sans', sans-serif" transform="translate(286.49590 555.99743) rotate(-45)">2020-04</text>
</g>
</g>
<g>
<g>
<path d="M 340.2 513.96 L 340.2 306.36" clip-path="url(#pf68f70f5b5)" style="fill: none; stroke: #b0b0b0; stroke-opacity: 0.3; stroke-width: 0.8; stroke-linecap: square" />
</g>
<g>
<g>
<path d="M 340.2 513.96 L 340.2 517.56" style="stroke: #000000; stroke-width: 0.8" />
</g>
</g>
<g>
<text style="font-size: 10px; font-family: 'DejaVu Sans', 'Liberation Sans', sans-serif" transform="translate(327.34307 555.99743) rotate(-45)">2020-05</text>
</g>
</g>
<g>
<g>
<path d="M 382.44 513.96 L 382.44 306.36" clip-path="url(#pf68f70f5b5)" style="fill: none; stroke: #b0b0b0; stroke-opacity: 0.3; stroke-width: 0.8; stroke-linecap: square" />
</g>
<g>
<g>
<path d="M 382.44 513.96 L 382.44 517.56" style="stroke: #000000; stroke-width: 0.8" />
</g>
</g>
<g>
<text style="font-size: 10px; font-family: 'DejaVu Sans', 'Liberation Sans', sans-serif" transform="translate(369.55182 555.99743) rotate(-45)">2020-06</text>
</g>
</g>
<g>
<g>
<path d="M 423.24 513.96 L 423.24 306.36" clip-path="url(#pf68f70f5b5)" style="fill: none; stroke: #b0b0b0; stroke-opacity: 0.3; stroke-width: 0.8; stroke-linecap: square" />
</g>
<g>
<g>
<path d="M 423.24 513.96 L 423.24 517.56" style="stroke: #000000; stroke-width: 0.8" />
</g>
</g>
<g>
<text style="font-size: 10px; font-family: 'DejaVu Sans', 'Liberation Sans', sans-serif" transform="translate(410.40960 555.97622) rotate(-45)">2020-07</text>
</g>
</g>
<g>
<g>
<path d="M 465.48 513.96 L 465.48 306.36" clip-path="url(#pf68f70f5b5)" style="fill: none; stroke: #b0b0b0; stroke-opacity: 0.3; stroke-width: 0.8; stroke-linecap: square" />
</g>
<g>
<g>
<path d="M 465.48 513.96 L 465.48 517.56" style="stroke: #000000; stroke-width: 0.8" />
</g>
</g>
<g>
<text style="font-size: 10px; font-family: 'DejaVu Sans', 'Liberation Sans', sans-serif" transform="translate(452.59713 556.01865) rotate(-45)">2020-08</text>
</g>
</g>
<g>
<g>
<path d="M 507.72 513.96 L 507.72 306.36" clip-path="url(#pf68f70f5b5)" style="fill: none; stroke: #b0b0b0; stroke-opacity: 0.3; stroke-width: 0.8; stroke-linecap: square" />
</g>
<g>
<g>
<path d="M 507.72 513.96 L 507.72 517.56" style="stroke: #000000; stroke-width: 0.8" />
</g>
</g>
<g>
<text style="font-size: 10px; font-family: 'DejaVu Sans', 'Liberation Sans', sans-serif" transform="translate(494.82709 555.97622) rotate(-45)">2020-09</text>
</g>
</g>
<g>
<g>
<path d="M 548.52 513.96 L 548.52 306.36" clip-path="url(#pf68f70f5b5)" style="fill: none; stroke: #b0b0b0; stroke-opacity: 0.3; stroke-width: 0.8; stroke-linecap: square" />
</g>
<g>
<g>
<path d="M 548.52 513.96 L 548.52 517.56" style="stroke: #000000; stroke-width: 0.8" />
</g>
</g>
<g>
<text style="font-size: 10px; font-family: 'DejaVu Sans', 'Liberation Sans', sans-serif" transform="translate(535.66366 555.99743) rotate(-45)">2020-10</text>
</g>
</g>
<g>
<g>
<path d="M 590.76 513.96 L 590.76 306.36" clip-path="url(#pf68f70f5b5)" style="fill: none; stroke: #b0b0b0; stroke-opacity: 0.3; stroke-width: 0.8; stroke-linecap: square" />
</g>
<g>
<g>
<path d="M 590.76 513.96 L 590.76 517.56" style="stroke: #000000; stroke-width: 0.8" />
</g>
</g>
<g>
<text style="font-size: 10px; font-family: 'DejaVu Sans', 'Liberation Sans', sans-serif" transform="translate(577.87241 555.99743) rotate(-45)">2020-11</text>
</g>
</g>
<g>
<g>
<path d="M 631.56 513.96 L 631.56 306.36" clip-path="url(#pf68f70f5b5)" style="fill: none; stroke: #b0b0b0; stroke-opacity: 0.3; stroke-width: 0.8; stroke-linecap: square" />
</g>
<g>
<g>
<path d="M 631.56 513.96 L 631.56 517.56" style="stroke: #000000; stroke-width: 0.8" />
</g>
</g>
<g>
<text style="font-size: 10px; font-family: 'DejaVu Sans', 'Liberation Sans', sans-serif" transform="translate(618.73019 555.97622) rotate(-45)">2020-12</text>
</g>
</g>
<g>
<g>
<path d="M 673.8 513.96 L 673.8 306.36" clip-path="url(#pf68f70f5b5)" style="fill: none; stroke: #b0b0b0; stroke-opacity: 0.3; stroke-width: 0.8; stroke-linecap: square" />
</g>
<g>
<g>
<path d="M 673.8 513.96 L 673.8 517.56" style="stroke: #000000; stroke-width: 0.8" />
</g>
</g>
<g>
<text style="font-size: 10px; font-family: 'DejaVu Sans', 'Liberation Sans', sans-serif" transform="translate(660.92833 555.99743) rotate(-45)">2021-01</text>
</g>
</g>
</g>
<g>
<g>
<g>
<path d="M 62.04 499.56 L 709.32 499.56" clip-path="url(#pf68f70f5b5)" style="fill: none; stroke: #b0b0b0; stroke-opacity: 0.3; stroke-width: 0.8; stroke-linecap: square" />
</g>
<g>
<g>
<path d="M 62.04 499.56 L 58.44 499.56" style="stroke: #000000; stroke-width: 0.8" />
</g>
</g>
<g>
<text style="font-size: 10px; font-family: 'DejaVu Sans', 'Liberation Sans', sans-serif; text-anchor: end" x="55.016" y="503.364">−1.5</text>
</g>
</g>
<g>
<g>
<path d="M 62.04 471.96 L 709.32 471.96" clip-path="url(#pf68f70f5b5)" style="fill: none; stroke: #b0b0b0; stroke-opacity: 0.3; stroke-width: 0.8; stroke-linecap: square" />
</g>
<g>
<g>
<path d="M 62.04 471.96 L 58.44 471.96" style="stroke: #000000; stroke-width: 0.8" />
</g>
</g>
<g>
<text style="font-size: 10px; font-family: 'DejaVu Sans', 'Liberation Sans', sans-serif; text-anchor: end" x="55.016" y="475.8">−1.0</text>
</g>
</g>
<g>
<g>
<path d="M 62.04 444.36 L 709.32 444.36" clip-path="url(#pf68f70f5b5)" style="fill: none; stroke: #b0b0b0; stroke-opacity: 0.3; stroke-width: 0.8; stroke-linecap: square" />
</g>
<g>
<g>
<path d="M 62.04 444.36 L 58.44 444.36" style="stroke: #000000; stroke-width: 0.8" />
</g>
</g>
<g>
<text style="font-size: 10px; font-family: 'DejaVu Sans', 'Liberation Sans', sans-serif; text-anchor: end" x="55.016" y="448.236">−0.5</text>
</g>
</g>
<g>
<g>
<path d="M 62.04 416.76 L 709.32 416.76" clip-path="url(#pf68f70f5b5)" style="fill: none; stroke: #b0b0b0; stroke-opacity: 0.3; stroke-width: 0.8; stroke-linecap: square" />
</g>
<g>
<g>
<path d="M 62.04 416.76 L 58.44 416.76" style="stroke: #000000; stroke-width: 0.8" />
</g>
</g>
<g>
<text style="font-size: 10px; font-family: 'DejaVu Sans', 'Liberation Sans', sans-serif; text-anchor: end" x="55.016" y="420.672">0.0</text>
</g>
</g>
<g>
<g>
<path d="M 62.04 389.16 L 709.32 389.16" clip-path="url(#pf68f70f5b5)" style="fill: none; stroke: #b0b0b0; stroke-opacity: 0.3; stroke-width: 0.8; stroke-linecap: square" />
</g>
<g>
<g>
<path d="M 62.04 389.16 L 58.44 389.16" style="stroke: #000000; stroke-width: 0.8" />
</g>
</g>
<g>
<text style="font-size: 10px; font-family: 'DejaVu Sans', 'Liberation Sans', sans-serif; text-anchor: end" x="55.016" y="393.108">0.5</text>
</g>
</g>
<g>
<g>
<path d="M 62.04 361.8 L 709.32 361.8" clip-path="url(#pf68f70f5b5)" style="fill: none; stroke: #b0b0b0; stroke-opacity: 0.3; stroke-width: 0.8; stroke-linecap: square" />
</g>
<g>
<g>
<path d="M 62.04 361.8 L 58.44 361.8" style="stroke: #000000; stroke-width: 0.8" />
</g>
</g>
<g>
<text style="font-size: 10px; font-family: 'DejaVu Sans', 'Liberation Sans', sans-serif; text-anchor: end" x="55.016" y="365.544">1.0</text>
</g>
</g>
<g>
<g>
<path d="M 62.04 334.2 L 709.32 334.2" clip-path="url(#pf68f70f5b5)" style="fill: none; stroke: #b0b0b0; stroke-opacity: 0.3; stroke-width: 0.8; stroke-linecap: square" />
</g>
<g>
<g>
<path d="M 62.04 334.2 L 58.44 334.2" style="stroke: #000000; stroke-width: 0.8" />
</g>
</g>
<g>
<text style="font-size: 10px; font-family: 'DejaVu Sans', 'Liberation Sans', sans-serif; text-anchor: end" x="55.016" y="337.98">1.5</text>
</g>
</g>
<g>
<g>
<path d="M 62.04 306.6 L 709.32 306.6" clip-path="url(#pf68f70f5b5)" style="fill: none; stroke: #b0b0b0; stroke-opacity: 0.3; stroke-width: 0.8; stroke-linecap: square" />
</g>
<g>
<g>
<path d="M 62.04 306.6 L 58.44 306.6" style="stroke: #000000; stroke-width: 0.8" />
</g>
</g>
<g>
<text style="font-size: 10px; font-family: 'DejaVu Sans', 'Liberation Sans', sans-serif; text-anchor: end" x="55.016" y="310.416">2.0</text>
</g>
</g>
<g>
<text style="font-size: 12px; font-family: 'DejaVu Sans', 'Liberation Sans', sans-serif; text-anchor: middle" x="24.346" y="410.1204" transform="rotate(-90 24.346 410.1204)">Weekly Tracer Load (-/week)</text>
</g>
</g>
<g>
<path d="M 94.912 424.215 L 104.443 456.895 L 113.974 423.779 L 123.505 472.81 L 133.036 439.904 L 142.567 404.578 L 152.098 424.628 L 161.629 419.744 L 171.16 425.494 L 180.691 427.903 L 190.222 420.009 L 199.753 418.564 L 209.284 416.921 L 218.815 417.539 L 228.346 409.849 L 237.877 400.923 L 247.408 423.041 L 256.939 372.687 L 266.47 424.325 L 276.001 411.64 L 285.532 408.752 L 295.063 391.028 L 304.594 440.114 L 314.125 393.944 L 323.656 435.775 L 333.187 430.692 L 342.718 397.241 L 352.249 434.331 L 361.78 408.283 L 371.311 412.875 L 380.842 433.449 L 390.374 381.193 L 399.905 420.075 L 409.436 432.892 L 418.967 436.045 L 428.498 413.834 L 438.029 393.746 L 447.56 431.663 L 457.091 370.366 L 466.622 425.351 L 476.153 411.635 L 485.684 435.637 L 495.215 415.549 L 504.746 413.625 L 514.277 366.937 L 523.808 437.352 L 533.339 378.139 L 542.87 315.767 L 552.401 449.072 L 561.932 401.012 L 571.463 464.144 L 580.994 446.194 L 590.525 419.044 L 600.056 435.77 L 609.587 405.019 L 619.118 448.664 L 628.649 435.5 L 638.18 436.938 L 647.711 407.423 L 657.242 442.765 L 666.773 409.65 L 676.304 403.751" clip-path="url(#pf68f70f5b5)" style="fill: none; stroke-dasharray: 1,1.65; stroke-dashoffset: 0; stroke: #006400" />
</g>
<g>
<path d="M 61.92 416.64 L 709.2 416.64" clip-path="url(#pf68f70f5b5)" style="fill: none; stroke: #000000; stroke-opacity: 0.5; stroke-width: 2; stroke-linecap: square" />
</g>
<g>
<path d="M 62.04 513.96 L 62.04 306.36" style="fill: none; stroke: #000000; stroke-width: 0.8; stroke-linejoin: miter; stroke-linecap: square" />
</g>
<g>
<path d="M 709.32 513.96 L 709.32 306.36" style="fill: none; stroke: #000000; stroke-width: 0.8; stroke-linejoin: miter; stroke-linecap: square" />
</g>
<g>
<path d="M 62.04 513.96 L 709.32 513.96" style="fill: none; stroke: #000000; stroke-width: 0.8; stroke-linejoin: miter; stroke-linecap: square" />
</g>
<g>
<path d="M 62.04 306.36 L 709.32 306.36" style="fill: none; stroke: #000000; stroke-width: 0.8; stroke-linejoin: miter; stroke-linecap: square" />
</g>
<g>
<g>
<path d="M 74.96 329.789 L 177.11 329.789 Q 180.11 329.789 180.11 326.789 L 180.11 316.709 Q 180.11 313.709 177.11 313.709 L 74.96 313.709 Q 71.96 313.709 71.96 316.709 L 71.96 326.789 Q 71.96 329.789 74.96 329.789 z" style="fill: #f08080; stroke: #000000; stroke-linejoin: miter; fill-opacity: 0.7; stroke-opacity: 0.7" />
</g>
<text style="font-size: 10px; font-family: 'DejaVu Sans', 'Liberation Sans', sans-serif; text-anchor: start" x="74.95968" y="324.62904">Red/Darkred: Import</text>
</g>
<g>
<g>
<path d="M 191.453 329.789 L 279.143 329.789 Q 282.143 329.789 282.143 326.789 L 282.143 316.709 Q 282.143 313.709 279.143 313.709 L 191.453 313.709 Q 188.453 313.709 188.453 316.709 L 188.453 326.789 Q 188.453 329.789 191.453 329.789 z" style="fill: #008000; stroke: #000000; stroke-linejoin: miter; fill-opacity: 0.6; stroke-opacity: 0.6" />
</g>
<text style="font-size: 10px; font-family: 'DejaVu Sans', 'Liberation Sans', sans-serif; text-anchor: start" x="191.4528" y="324.62904">Total: -1.28 tonne</text>
</g>
<g>
<g>
<path d="M 74.96 506.532 L 164.36 506.532 Q 167.36 506.532 167.36 503.532 L 167.36 493.452 Q 167.36 490.452 164.36 490.452 L 74.96 490.452 Q 71.96 490.452 71.96 493.452 L 71.96 503.532 Q 71.96 506.532 74.96 506.532 z" style="fill: #add8e6; stroke: #000000; stroke-linejoin: miter; fill-opacity: 0.7; stroke-opacity: 0.7" />
</g>
<text style="font-size: 10px; font-family: 'DejaVu Sans', 'Liberation Sans', sans-serif; text-anchor: start" x="74.95968" y="501.37176">Blue/Navy: Export</text>
</g>
<g>
<text style="font-weight: 700; font-size: 14px; font-family: 'DejaVu Sans', 'Liberation Sans', sans-serif; text-anchor: middle" x="385.608" y="300.33">(b) 2020 River tracer load through Cockburn Sound</text>
</g>
<g>
<g>
<path d="M 577.11 359.57 L 702.2 359.57 Q 704.2 359.57 704.2 357.57 L 704.2 313.33 Q 704.2 311.33 702.2 311.33 L 577.11 311.33 Q 575.11 311.33 575.11 313.33 L 575.11 357.57 Q 575.11 359.57 577.11 359.57 z" style="fill: #ffffff; stroke: #cccccc; stroke-linejoin: miter; fill-opacity: 0.8; stroke-opacity: 0.8" />
</g>
<g>
<path d="M 579.12 319.68 L 589.2 319.68 L 599.04 319.68" style="fill: none; stroke-dasharray: 1,1.65; stroke-dashoffset: 0; stroke: #006400" />
</g>
<g>
<text style="font-size: 10px; font-family: 'DejaVu Sans', 'Liberation Sans', sans-serif; text-anchor: start" x="607.11" y="323.25">Net Weekly Import</text>
</g>
<g>
<path d="M 579.12 338.4 L 599.04 338.4 L 599.04 331.44 L 579.12 331.44 z" style="fill: #0000ff; stroke: #808080; stroke-width: 1.5; stroke-linejoin: miter; fill-opacity: 0.6; stroke-opacity: 0.6" />
</g>
<g>
<text style="font-size: 10px; font-family: 'DejaVu Sans', 'Liberation Sans', sans-serif; text-anchor: start" x="607.11" y="338.33">CS-North (NS5)</text>
</g>
<g>
<path d="M 579.24 353.64 L 599.16 353.64 L 599.16 346.44 L 579.24 346.44 z" style="fill: url(#ha8ac74c9a2); stroke: #000000; stroke-width: 0.8; stroke-linejoin: miter; stroke-opacity: 0.6" />
</g>
<g>
<text style="font-size: 10px; font-family: 'DejaVu Sans', 'Liberation Sans', sans-serif; text-anchor: start" x="607.11" y="353.41">CS-South (NS11)</text>
</g>
</g>
</g>
<g>
<g>
<path d="M 61.92 792.72 L 709.2 792.72 L 709.2 585.12 L 61.92 585.12 z" style="fill: #ffffff" />
</g>
<g>
<path d="M 93.12 631.2 L 98.4 631.2 L 98.4 631.44 L 93.12 631.44 z" clip-path="url(#pa8ab9f94da)" style="fill: #0000ff; stroke: #808080; stroke-width: 1.5; stroke-linejoin: miter; fill-opacity: 0.6; stroke-opacity: 0.6" />
</g>
<g>
<path d="M 102.72 631.2 L 108 631.2 L 108 644.88 L 102.72 644.88 z" clip-path="url(#pa8ab9f94da)" style="fill: #0000ff; stroke: #808080; stroke-width: 1.5; stroke-linejoin: miter; fill-opacity: 0.6; stroke-opacity: 0.6" />
</g>
<g>
<path d="M 112.08 631.2 L 117.36 631.2 L 117.36 642 L 112.08 642 z" clip-path="url(#pa8ab9f94da)" style="fill: #0000ff; stroke: #808080; stroke-width: 1.5; stroke-linejoin: miter; fill-opacity: 0.6; stroke-opacity: 0.6" />
</g>
<g>
<path d="M 121.68 631.2 L 126.96 631.2 L 126.96 712.08 L 121.68 712.08 z" clip-path="url(#pa8ab9f94da)" style="fill: #0000ff; stroke: #808080; stroke-width: 1.5; stroke-linejoin: miter; fill-opacity: 0.6; stroke-opacity: 0.6" />
</g>
<g>
<path d="M 131.28 631.2 L 136.56 631.2 L 136.56 697.92 L 131.28 697.92 z" clip-path="url(#pa8ab9f94da)" style="fill: #0000ff; stroke: #808080; stroke-width: 1.5; stroke-linejoin: miter; fill-opacity: 0.6; stroke-opacity: 0.6" />
</g>
<g>
<path d="M 140.88 631.2 L 146.16 631.2 L 146.16 633.84 L 140.88 633.84 z" clip-path="url(#pa8ab9f94da)" style="fill: #0000ff; stroke: #808080; stroke-width: 1.5; stroke-linejoin: miter; fill-opacity: 0.6; stroke-opacity: 0.6" />
</g>
<g>
<path d="M 150.24 631.2 L 155.52 631.2 L 155.52 665.52 L 150.24 665.52 z" clip-path="url(#pa8ab9f94da)" style="fill: #0000ff; stroke: #808080; stroke-width: 1.5; stroke-linejoin: miter; fill-opacity: 0.6; stroke-opacity: 0.6" />
</g>
<g>
<path d="M 159.84 631.2 L 165.12 631.2 L 165.12 671.76 L 159.84 671.76 z" clip-path="url(#pa8ab9f94da)" style="fill: #0000ff; stroke: #808080; stroke-width: 1.5; stroke-linejoin: miter; fill-opacity: 0.6; stroke-opacity: 0.6" />
</g>
<g>
<path d="M 169.44 631.2 L 174.72 631.2 L 174.72 701.28 L 169.44 701.28 z" clip-path="url(#pa8ab9f94da)" style="fill: #0000ff; stroke: #808080; stroke-width: 1.5; stroke-linejoin: miter; fill-opacity: 0.6; stroke-opacity: 0.6" />
</g>
<g>
<path d="M 178.8 631.2 L 184.08 631.2 L 184.08 729.12 L 178.8 729.12 z" clip-path="url(#pa8ab9f94da)" style="fill: #0000ff; stroke: #808080; stroke-width: 1.5; stroke-linejoin: miter; fill-opacity: 0.6; stroke-opacity: 0.6" />
</g>
<g>
<path d="M 188.4 631.2 L 193.68 631.2 L 193.68 671.04 L 188.4 671.04 z" clip-path="url(#pa8ab9f94da)" style="fill: #0000ff; stroke: #808080; stroke-width: 1.5; stroke-linejoin: miter; fill-opacity: 0.6; stroke-opacity: 0.6" />
</g>
<g>
<path d="M 198 631.2 L 203.28 631.2 L 203.28 675.12 L 198 675.12 z" clip-path="url(#pa8ab9f94da)" style="fill: #0000ff; stroke: #808080; stroke-width: 1.5; stroke-linejoin: miter; fill-opacity: 0.6; stroke-opacity: 0.6" />
</g>
<g>
<path d="M 207.6 631.2 L 212.88 631.2 L 212.88 703.92 L 207.6 703.92 z" clip-path="url(#pa8ab9f94da)" style="fill: #0000ff; stroke: #808080; stroke-width: 1.5; stroke-linejoin: miter; fill-opacity: 0.6; stroke-opacity: 0.6" />
</g>
<g>
<path d="M 216.96 631.2 L 222.24 631.2 L 222.24 685.2 L 216.96 685.2 z" clip-path="url(#pa8ab9f94da)" style="fill: #0000ff; stroke: #808080; stroke-width: 1.5; stroke-linejoin: miter; fill-opacity: 0.6; stroke-opacity: 0.6" />
</g>
<g>
<path d="M 226.56 631.2 L 231.84 631.2 L 231.84 643.44 L 226.56 643.44 z" clip-path="url(#pa8ab9f94da)" style="fill: #0000ff; stroke: #808080; stroke-width: 1.5; stroke-linejoin: miter; fill-opacity: 0.6; stroke-opacity: 0.6" />
</g>
<g>
<path d="M 236.16 631.2 L 241.44 631.2 L 241.44 645.6 L 236.16 645.6 z" clip-path="url(#pa8ab9f94da)" style="fill: #0000ff; stroke: #808080; stroke-width: 1.5; stroke-linejoin: miter; fill-opacity: 0.6; stroke-opacity: 0.6" />
</g>
<g>
<path d="M 245.52 631.2 L 250.8 631.2 L 250.8 648.72 L 245.52 648.72 z" clip-path="url(#pa8ab9f94da)" style="fill: #0000ff; stroke: #808080; stroke-width: 1.5; stroke-linejoin: miter; fill-opacity: 0.6; stroke-opacity: 0.6" />
</g>
<g>
<path d="M 255.12 631.2 L 260.4 631.2 L 260.4 659.04 L 255.12 659.04 z" clip-path="url(#pa8ab9f94da)" style="fill: #0000ff; stroke: #808080; stroke-width: 1.5; stroke-linejoin: miter; fill-opacity: 0.6; stroke-opacity: 0.6" />
</g>
<g>
<path d="M 264.72 631.2 L 270 631.2 L 270 650.16 L 264.72 650.16 z" clip-path="url(#pa8ab9f94da)" style="fill: #0000ff; stroke: #808080; stroke-width: 1.5; stroke-linejoin: miter; fill-opacity: 0.6; stroke-opacity: 0.6" />
</g>
<g>
<path d="M 274.32 631.2 L 279.6 631.2 L 279.6 679.92 L 274.32 679.92 z" clip-path="url(#pa8ab9f94da)" style="fill: #0000ff; stroke: #808080; stroke-width: 1.5; stroke-linejoin: miter; fill-opacity: 0.6; stroke-opacity: 0.6" />
</g>
<g>
<path d="M 283.68 631.2 L 288.96 631.2 L 288.96 674.64 L 283.68 674.64 z" clip-path="url(#pa8ab9f94da)" style="fill: #0000ff; stroke: #808080; stroke-width: 1.5; stroke-linejoin: miter; fill-opacity: 0.6; stroke-opacity: 0.6" />
</g>
<g>
<path d="M 293.28 631.2 L 298.56 631.2 L 298.56 671.76 L 293.28 671.76 z" clip-path="url(#pa8ab9f94da)" style="fill: #0000ff; stroke: #808080; stroke-width: 1.5; stroke-linejoin: miter; fill-opacity: 0.6; stroke-opacity: 0.6" />
</g>
<g>
<path d="M 302.88 631.2 L 308.16 631.2 L 308.16 668.4 L 302.88 668.4 z" clip-path="url(#pa8ab9f94da)" style="fill: #0000ff; stroke: #808080; stroke-width: 1.5; stroke-linejoin: miter; fill-opacity: 0.6; stroke-opacity: 0.6" />
</g>
<g>
<path d="M 312.24 631.2 L 317.52 631.2 L 317.52 663.12 L 312.24 663.12 z" clip-path="url(#pa8ab9f94da)" style="fill: #0000ff; stroke: #808080; stroke-width: 1.5; stroke-linejoin: miter; fill-opacity: 0.6; stroke-opacity: 0.6" />
</g>
<g>
<path d="M 321.84 631.2 L 327.12 631.2 L 327.12 669.84 L 321.84 669.84 z" clip-path="url(#pa8ab9f94da)" style="fill: #0000ff; stroke: #808080; stroke-width: 1.5; stroke-linejoin: miter; fill-opacity: 0.6; stroke-opacity: 0.6" />
</g>
<g>
<path d="M 331.44 631.2 L 336.72 631.2 L 336.72 674.88 L 331.44 674.88 z" clip-path="url(#pa8ab9f94da)" style="fill: #0000ff; stroke: #808080; stroke-width: 1.5; stroke-linejoin: miter; fill-opacity: 0.6; stroke-opacity: 0.6" />
</g>
<g>
<path d="M 341.04 631.2 L 346.08 631.2 L 346.08 710.4 L 341.04 710.4 z" clip-path="url(#pa8ab9f94da)" style="fill: #0000ff; stroke: #808080; stroke-width: 1.5; stroke-linejoin: miter; fill-opacity: 0.6; stroke-opacity: 0.6" />
</g>
<g>
<path d="M 350.4 631.2 L 355.68 631.2 L 355.68 702.48 L 350.4 702.48 z" clip-path="url(#pa8ab9f94da)" style="fill: #0000ff; stroke: #808080; stroke-width: 1.5; stroke-linejoin: miter; fill-opacity: 0.6; stroke-opacity: 0.6" />
</g>
<g>
<path d="M 360 631.2 L 365.28 631.2 L 365.28 640.56 L 360 640.56 z" clip-path="url(#pa8ab9f94da)" style="fill: #0000ff; stroke: #808080; stroke-width: 1.5; stroke-linejoin: miter; fill-opacity: 0.6; stroke-opacity: 0.6" />
</g>
<g>
<path d="M 369.6 631.2 L 374.88 631.2 L 374.88 679.2 L 369.6 679.2 z" clip-path="url(#pa8ab9f94da)" style="fill: #0000ff; stroke: #808080; stroke-width: 1.5; stroke-linejoin: miter; fill-opacity: 0.6; stroke-opacity: 0.6" />
</g>
<g>
<path d="M 378.96 631.2 L 384.24 631.2 L 384.24 694.8 L 378.96 694.8 z" clip-path="url(#pa8ab9f94da)" style="fill: #0000ff; stroke: #808080; stroke-width: 1.5; stroke-linejoin: miter; fill-opacity: 0.6; stroke-opacity: 0.6" />
</g>
<g>
<path d="M 388.56 631.2 L 393.84 631.2 L 393.84 678.72 L 388.56 678.72 z" clip-path="url(#pa8ab9f94da)" style="fill: #0000ff; stroke: #808080; stroke-width: 1.5; stroke-linejoin: miter; fill-opacity: 0.6; stroke-opacity: 0.6" />
</g>
<g>
<path d="M 398.16 631.2 L 403.44 631.2 L 403.44 667.68 L 398.16 667.68 z" clip-path="url(#pa8ab9f94da)" style="fill: #0000ff; stroke: #808080; stroke-width: 1.5; stroke-linejoin: miter; fill-opacity: 0.6; stroke-opacity: 0.6" />
</g>
<g>
<path d="M 407.76 631.2 L 412.8 631.2 L 412.8 670.56 L 407.76 670.56 z" clip-path="url(#pa8ab9f94da)" style="fill: #0000ff; stroke: #808080; stroke-width: 1.5; stroke-linejoin: miter; fill-opacity: 0.6; stroke-opacity: 0.6" />
</g>
<g>
<path d="M 417.12 631.2 L 422.4 631.2 L 422.4 690.24 L 417.12 690.24 z" clip-path="url(#pa8ab9f94da)" style="fill: #0000ff; stroke: #808080; stroke-width: 1.5; stroke-linejoin: miter; fill-opacity: 0.6; stroke-opacity: 0.6" />
</g>
<g>
<path d="M 426.72 631.2 L 432 631.2 L 432 644.88 L 426.72 644.88 z" clip-path="url(#pa8ab9f94da)" style="fill: #0000ff; stroke: #808080; stroke-width: 1.5; stroke-linejoin: miter; fill-opacity: 0.6; stroke-opacity: 0.6" />
</g>
<g>
<path d="M 436.32 631.2 L 441.6 631.2 L 441.6 652.08 L 436.32 652.08 z" clip-path="url(#pa8ab9f94da)" style="fill: #0000ff; stroke: #808080; stroke-width: 1.5; stroke-linejoin: miter; fill-opacity: 0.6; stroke-opacity: 0.6" />
</g>
<g>
<path d="M 445.68 631.2 L 450.96 631.2 L 450.96 686.16 L 445.68 686.16 z" clip-path="url(#pa8ab9f94da)" style="fill: #0000ff; stroke: #808080; stroke-width: 1.5; stroke-linejoin: miter; fill-opacity: 0.6; stroke-opacity: 0.6" />
</g>
<g>
<path d="M 455.28 631.2 L 460.56 631.2 L 460.56 645.84 L 455.28 645.84 z" clip-path="url(#pa8ab9f94da)" style="fill: #0000ff; stroke: #808080; stroke-width: 1.5; stroke-linejoin: miter; fill-opacity: 0.6; stroke-opacity: 0.6" />
</g>
<g>
<path d="M 464.88 631.2 L 470.16 631.2 L 470.16 651.36 L 464.88 651.36 z" clip-path="url(#pa8ab9f94da)" style="fill: #0000ff; stroke: #808080; stroke-width: 1.5; stroke-linejoin: miter; fill-opacity: 0.6; stroke-opacity: 0.6" />
</g>
<g>
<path d="M 474.48 631.2 L 479.52 631.2 L 479.52 641.76 L 474.48 641.76 z" clip-path="url(#pa8ab9f94da)" style="fill: #0000ff; stroke: #808080; stroke-width: 1.5; stroke-linejoin: miter; fill-opacity: 0.6; stroke-opacity: 0.6" />
</g>
<g>
<path d="M 483.84 631.2 L 489.12 631.2 L 489.12 683.52 L 483.84 683.52 z" clip-path="url(#pa8ab9f94da)" style="fill: #0000ff; stroke: #808080; stroke-width: 1.5; stroke-linejoin: miter; fill-opacity: 0.6; stroke-opacity: 0.6" />
</g>
<g>
<path d="M 493.44 631.2 L 498.72 631.2 L 498.72 641.76 L 493.44 641.76 z" clip-path="url(#pa8ab9f94da)" style="fill: #0000ff; stroke: #808080; stroke-width: 1.5; stroke-linejoin: miter; fill-opacity: 0.6; stroke-opacity: 0.6" />
</g>
<g>
<path d="M 503.04 631.2 L 508.32 631.2 L 508.32 650.16 L 503.04 650.16 z" clip-path="url(#pa8ab9f94da)" style="fill: #0000ff; stroke: #808080; stroke-width: 1.5; stroke-linejoin: miter; fill-opacity: 0.6; stroke-opacity: 0.6" />
</g>
<g>
<path d="M 512.4 631.2 L 517.68 631.2 L 517.68 712.56 L 512.4 712.56 z" clip-path="url(#pa8ab9f94da)" style="fill: #0000ff; stroke: #808080; stroke-width: 1.5; stroke-linejoin: miter; fill-opacity: 0.6; stroke-opacity: 0.6" />
</g>
<g>
<path d="M 522 631.2 L 527.28 631.2 L 527.28 682.08 L 522 682.08 z" clip-path="url(#pa8ab9f94da)" style="fill: #0000ff; stroke: #808080; stroke-width: 1.5; stroke-linejoin: miter; fill-opacity: 0.6; stroke-opacity: 0.6" />
</g>
<g>
<path d="M 531.6 631.2 L 536.88 631.2 L 536.88 660.96 L 531.6 660.96 z" clip-path="url(#pa8ab9f94da)" style="fill: #0000ff; stroke: #808080; stroke-width: 1.5; stroke-linejoin: miter; fill-opacity: 0.6; stroke-opacity: 0.6" />
</g>
<g>
<path d="M 541.2 631.2 L 546.24 631.2 L 546.24 670.8 L 541.2 670.8 z" clip-path="url(#pa8ab9f94da)" style="fill: #0000ff; stroke: #808080; stroke-width: 1.5; stroke-linejoin: miter; fill-opacity: 0.6; stroke-opacity: 0.6" />
</g>
<g>
<path d="M 550.56 631.2 L 555.84 631.2 L 555.84 671.52 L 550.56 671.52 z" clip-path="url(#pa8ab9f94da)" style="fill: #0000ff; stroke: #808080; stroke-width: 1.5; stroke-linejoin: miter; fill-opacity: 0.6; stroke-opacity: 0.6" />
</g>
<g>
<path d="M 560.16 631.2 L 565.44 631.2 L 565.44 662.64 L 560.16 662.64 z" clip-path="url(#pa8ab9f94da)" style="fill: #0000ff; stroke: #808080; stroke-width: 1.5; stroke-linejoin: miter; fill-opacity: 0.6; stroke-opacity: 0.6" />
</g>
<g>
<path d="M 569.76 631.2 L 575.04 631.2 L 575.04 708.96 L 569.76 708.96 z" clip-path="url(#pa8ab9f94da)" style="fill: #0000ff; stroke: #808080; stroke-width: 1.5; stroke-linejoin: miter; fill-opacity: 0.6; stroke-opacity: 0.6" />
</g>
<g>
<path d="M 579.12 631.2 L 584.4 631.2 L 584.4 680.16 L 579.12 680.16 z" clip-path="url(#pa8ab9f94da)" style="fill: #0000ff; stroke: #808080; stroke-width: 1.5; stroke-linejoin: miter; fill-opacity: 0.6; stroke-opacity: 0.6" />
</g>
<g>
<path d="M 588.72 631.2 L 594 631.2 L 594 643.92 L 588.72 643.92 z" clip-path="url(#pa8ab9f94da)" style="fill: #0000ff; stroke: #808080; stroke-width: 1.5; stroke-linejoin: miter; fill-opacity: 0.6; stroke-opacity: 0.6" />
</g>
<g>
<path d="M 598.32 631.2 L 603.6 631.2 L 603.6 676.32 L 598.32 676.32 z" clip-path="url(#pa8ab9f94da)" style="fill: #0000ff; stroke: #808080; stroke-width: 1.5; stroke-linejoin: miter; fill-opacity: 0.6; stroke-opacity: 0.6" />
</g>
<g>
<path d="M 607.92 631.2 L 612.96 631.2 L 612.96 655.2 L 607.92 655.2 z" clip-path="url(#pa8ab9f94da)" style="fill: #0000ff; stroke: #808080; stroke-width: 1.5; stroke-linejoin: miter; fill-opacity: 0.6; stroke-opacity: 0.6" />
</g>
<g>
<path d="M 617.28 631.2 L 622.56 631.2 L 622.56 700.56 L 617.28 700.56 z" clip-path="url(#pa8ab9f94da)" style="fill: #0000ff; stroke: #808080; stroke-width: 1.5; stroke-linejoin: miter; fill-opacity: 0.6; stroke-opacity: 0.6" />
</g>
<g>
<path d="M 626.88 631.2 L 632.16 631.2 L 632.16 733.44 L 626.88 733.44 z" clip-path="url(#pa8ab9f94da)" style="fill: #0000ff; stroke: #808080; stroke-width: 1.5; stroke-linejoin: miter; fill-opacity: 0.6; stroke-opacity: 0.6" />
</g>
<g>
<path d="M 636.48 631.2 L 641.76 631.2 L 641.76 709.44 L 636.48 709.44 z" clip-path="url(#pa8ab9f94da)" style="fill: #0000ff; stroke: #808080; stroke-width: 1.5; stroke-linejoin: miter; fill-opacity: 0.6; stroke-opacity: 0.6" />
</g>
<g>
<path d="M 645.84 631.2 L 651.12 631.2 L 651.12 638.16 L 645.84 638.16 z" clip-path="url(#pa8ab9f94da)" style="fill: #0000ff; stroke: #808080; stroke-width: 1.5; stroke-linejoin: miter; fill-opacity: 0.6; stroke-opacity: 0.6" />
</g>
<g>
<path d="M 655.44 631.2 L 660.72 631.2 L 660.72 717.36 L 655.44 717.36 z" clip-path="url(#pa8ab9f94da)" style="fill: #0000ff; stroke: #808080; stroke-width: 1.5; stroke-linejoin: miter; fill-opacity: 0.6; stroke-opacity: 0.6" />
</g>
<g>
<path d="M 665.04 631.2 L 670.32 631.2 L 670.32 651.12 L 665.04 651.12 z" clip-path="url(#pa8ab9f94da)" style="fill: #0000ff; stroke: #808080; stroke-width: 1.5; stroke-linejoin: miter; fill-opacity: 0.6; stroke-opacity: 0.6" />
</g>
<g>
<path d="M 674.64 631.2 L 679.68 631.2 L 679.68 641.76 L 674.64 641.76 z" clip-path="url(#pa8ab9f94da)" style="fill: #0000ff; stroke: #808080; stroke-width: 1.5; stroke-linejoin: miter; fill-opacity: 0.6; stroke-opacity: 0.6" />
</g>
<g>
<path d="M 91.56 631.32 L 96.84 631.32 L 96.84 631.32 L 91.56 631.32 z" clip-path="url(#pa8ab9f94da)" style="fill: url(#ha8ac74c9a2); stroke: #000000; stroke-width: 0.8; stroke-linejoin: miter; stroke-opacity: 0.6" />
</g>
<g>
<path d="M 101.16 631.32 L 106.44 631.32 L 106.44 631.08 L 101.16 631.08 z" clip-path="url(#pa8ab9f94da)" style="fill: url(#ha8ac74c9a2); stroke: #000000; stroke-width: 0.8; stroke-linejoin: miter; stroke-opacity: 0.6" />
</g>
<g>
<path d="M 110.52 631.32 L 115.8 631.32 L 115.8 631.32 L 110.52 631.32 z" clip-path="url(#pa8ab9f94da)" style="fill: url(#he7174bcf4e); stroke: #000000; stroke-width: 0.8; stroke-linejoin: miter; stroke-opacity: 0.6" />
</g>
<g>
<path d="M 120.12 631.32 L 125.4 631.32 L 125.4 630.6 L 120.12 630.6 z" clip-path="url(#pa8ab9f94da)" style="fill: url(#ha8ac74c9a2); stroke: #000000; stroke-width: 0.8; stroke-linejoin: miter; stroke-opacity: 0.6" />
</g>
<g>
<path d="M 129.72 631.32 L 135 631.32 L 135 631.08 L 129.72 631.08 z" clip-path="url(#pa8ab9f94da)" style="fill: url(#ha8ac74c9a2); stroke: #000000; stroke-width: 0.8; stroke-linejoin: miter; stroke-opacity: 0.6" />
</g>
<g>
<path d="M 139.32 631.32 L 144.36 631.32 L 144.36 631.32 L 139.32 631.32 z" clip-path="url(#pa8ab9f94da)" style="fill: url(#he7174bcf4e); stroke: #000000; stroke-width: 0.8; stroke-linejoin: miter; stroke-opacity: 0.6" />
</g>
<g>
<path d="M 148.68 631.32 L 153.96 631.32 L 153.96 631.08 L 148.68 631.08 z" clip-path="url(#pa8ab9f94da)" style="fill: url(#ha8ac74c9a2); stroke: #000000; stroke-width: 0.8; stroke-linejoin: miter; stroke-opacity: 0.6" />
</g>
<g>
<path d="M 158.28 631.32 L 163.56 631.32 L 163.56 631.32 L 158.28 631.32 z" clip-path="url(#pa8ab9f94da)" style="fill: url(#ha8ac74c9a2); stroke: #000000; stroke-width: 0.8; stroke-linejoin: miter; stroke-opacity: 0.6" />
</g>
<g>
<path d="M 167.88 631.32 L 173.16 631.32 L 173.16 631.08 L 167.88 631.08 z" clip-path="url(#pa8ab9f94da)" style="fill: url(#ha8ac74c9a2); stroke: #000000; stroke-width: 0.8; stroke-linejoin: miter; stroke-opacity: 0.6" />
</g>
<g>
<path d="M 177.24 631.32 L 182.52 631.32 L 182.52 630.84 L 177.24 630.84 z" clip-path="url(#pa8ab9f94da)" style="fill: url(#ha8ac74c9a2); stroke: #000000; stroke-width: 0.8; stroke-linejoin: miter; stroke-opacity: 0.6" />
</g>
<g>
<path d="M 186.84 631.32 L 192.12 631.32 L 192.12 631.08 L 186.84 631.08 z" clip-path="url(#pa8ab9f94da)" style="fill: url(#ha8ac74c9a2); stroke: #000000; stroke-width: 0.8; stroke-linejoin: miter; stroke-opacity: 0.6" />
</g>
<g>
<path d="M 196.44 631.32 L 201.72 631.32 L 201.72 631.32 L 196.44 631.32 z" clip-path="url(#pa8ab9f94da)" style="fill: url(#ha8ac74c9a2); stroke: #000000; stroke-width: 0.8; stroke-linejoin: miter; stroke-opacity: 0.6" />
</g>
<g>
<path d="M 206.04 631.32 L 211.08 631.32 L 211.08 631.08 L 206.04 631.08 z" clip-path="url(#pa8ab9f94da)" style="fill: url(#ha8ac74c9a2); stroke: #000000; stroke-width: 0.8; stroke-linejoin: miter; stroke-opacity: 0.6" />
</g>
<g>
<path d="M 215.4 631.32 L 220.68 631.32 L 220.68 631.08 L 215.4 631.08 z" clip-path="url(#pa8ab9f94da)" style="fill: url(#ha8ac74c9a2); stroke: #000000; stroke-width: 0.8; stroke-linejoin: miter; stroke-opacity: 0.6" />
</g>
<g>
<path d="M 225 631.32 L 230.28 631.32 L 230.28 631.32 L 225 631.32 z" clip-path="url(#pa8ab9f94da)" style="fill: url(#he7174bcf4e); stroke: #000000; stroke-width: 0.8; stroke-linejoin: miter; stroke-opacity: 0.6" />
</g>
<g>
<path d="M 234.6 631.32 L 239.88 631.32 L 239.88 631.32 L 234.6 631.32 z" clip-path="url(#pa8ab9f94da)" style="fill: url(#he7174bcf4e); stroke: #000000; stroke-width: 0.8; stroke-linejoin: miter; stroke-opacity: 0.6" />
</g>
<g>
<path d="M 243.96 631.32 L 249.24 631.32 L 249.24 631.32 L 243.96 631.32 z" clip-path="url(#pa8ab9f94da)" style="fill: url(#ha8ac74c9a2); stroke: #000000; stroke-width: 0.8; stroke-linejoin: miter; stroke-opacity: 0.6" />
</g>
<g>
<path d="M 253.56 631.32 L 258.84 631.32 L 258.84 631.32 L 253.56 631.32 z" clip-path="url(#pa8ab9f94da)" style="fill: url(#he7174bcf4e); stroke: #000000; stroke-width: 0.8; stroke-linejoin: miter; stroke-opacity: 0.6" />
</g>
<g>
<path d="M 263.16 631.32 L 268.44 631.32 L 268.44 631.08 L 263.16 631.08 z" clip-path="url(#pa8ab9f94da)" style="fill: url(#ha8ac74c9a2); stroke: #000000; stroke-width: 0.8; stroke-linejoin: miter; stroke-opacity: 0.6" />
</g>
<g>
<path d="M 272.76 631.32 L 277.8 631.32 L 277.8 631.32 L 272.76 631.32 z" clip-path="url(#pa8ab9f94da)" style="fill: url(#he7174bcf4e); stroke: #000000; stroke-width: 0.8; stroke-linejoin: miter; stroke-opacity: 0.6" />
</g>
<g>
<path d="M 282.12 631.32 L 287.4 631.32 L 287.4 631.32 L 282.12 631.32 z" clip-path="url(#pa8ab9f94da)" style="fill: url(#he7174bcf4e); stroke: #000000; stroke-width: 0.8; stroke-linejoin: miter; stroke-opacity: 0.6" />
</g>
<g>
<path d="M 291.72 631.32 L 297 631.32 L 297 631.56 L 291.72 631.56 z" clip-path="url(#pa8ab9f94da)" style="fill: url(#he7174bcf4e); stroke: #000000; stroke-width: 0.8; stroke-linejoin: miter; stroke-opacity: 0.6" />
</g>
<g>
<path d="M 301.32 631.32 L 306.6 631.32 L 306.6 631.32 L 301.32 631.32 z" clip-path="url(#pa8ab9f94da)" style="fill: url(#ha8ac74c9a2); stroke: #000000; stroke-width: 0.8; stroke-linejoin: miter; stroke-opacity: 0.6" />
</g>
<g>
<path d="M 310.68 631.32 L 315.96 631.32 L 315.96 631.56 L 310.68 631.56 z" clip-path="url(#pa8ab9f94da)" style="fill: url(#he7174bcf4e); stroke: #000000; stroke-width: 0.8; stroke-linejoin: miter; stroke-opacity: 0.6" />
</g>
<g>
<path d="M 320.28 631.32 L 325.56 631.32 L 325.56 631.08 L 320.28 631.08 z" clip-path="url(#pa8ab9f94da)" style="fill: url(#ha8ac74c9a2); stroke: #000000; stroke-width: 0.8; stroke-linejoin: miter; stroke-opacity: 0.6" />
</g>
<g>
<path d="M 329.88 631.32 L 335.16 631.32 L 335.16 631.32 L 329.88 631.32 z" clip-path="url(#pa8ab9f94da)" style="fill: url(#he7174bcf4e); stroke: #000000; stroke-width: 0.8; stroke-linejoin: miter; stroke-opacity: 0.6" />
</g>
<g>
<path d="M 339.24 631.32 L 344.52 631.32 L 344.52 631.8 L 339.24 631.8 z" clip-path="url(#pa8ab9f94da)" style="fill: url(#he7174bcf4e); stroke: #000000; stroke-width: 0.8; stroke-linejoin: miter; stroke-opacity: 0.6" />
</g>
<g>
<path d="M 348.84 631.32 L 354.12 631.32 L 354.12 631.32 L 348.84 631.32 z" clip-path="url(#pa8ab9f94da)" style="fill: url(#he7174bcf4e); stroke: #000000; stroke-width: 0.8; stroke-linejoin: miter; stroke-opacity: 0.6" />
</g>
<g>
<path d="M 358.44 631.32 L 363.72 631.32 L 363.72 631.32 L 358.44 631.32 z" clip-path="url(#pa8ab9f94da)" style="fill: url(#he7174bcf4e); stroke: #000000; stroke-width: 0.8; stroke-linejoin: miter; stroke-opacity: 0.6" />
</g>
<g>
<path d="M 368.04 631.32 L 373.32 631.32 L 373.32 631.8 L 368.04 631.8 z" clip-path="url(#pa8ab9f94da)" style="fill: url(#he7174bcf4e); stroke: #000000; stroke-width: 0.8; stroke-linejoin: miter; stroke-opacity: 0.6" />
</g>
<g>
<path d="M 377.4 631.32 L 382.68 631.32 L 382.68 631.32 L 377.4 631.32 z" clip-path="url(#pa8ab9f94da)" style="fill: url(#ha8ac74c9a2); stroke: #000000; stroke-width: 0.8; stroke-linejoin: miter; stroke-opacity: 0.6" />
</g>
<g>
<path d="M 387 631.32 L 392.28 631.32 L 392.28 632.28 L 387 632.28 z" clip-path="url(#pa8ab9f94da)" style="fill: url(#he7174bcf4e); stroke: #000000; stroke-width: 0.8; stroke-linejoin: miter; stroke-opacity: 0.6" />
</g>
<g>
<path d="M 396.6 631.32 L 401.88 631.32 L 401.88 632.04 L 396.6 632.04 z" clip-path="url(#pa8ab9f94da)" style="fill: url(#he7174bcf4e); stroke: #000000; stroke-width: 0.8; stroke-linejoin: miter; stroke-opacity: 0.6" />
</g>
<g>
<path d="M 405.96 631.32 L 411.24 631.32 L 411.24 632.52 L 405.96 632.52 z" clip-path="url(#pa8ab9f94da)" style="fill: url(#he7174bcf4e); stroke: #000000; stroke-width: 0.8; stroke-linejoin: miter; stroke-opacity: 0.6" />
</g>
<g>
<path d="M 415.56 631.32 L 420.84 631.32 L 420.84 632.76 L 415.56 632.76 z" clip-path="url(#pa8ab9f94da)" style="fill: url(#he7174bcf4e); stroke: #000000; stroke-width: 0.8; stroke-linejoin: miter; stroke-opacity: 0.6" />
</g>
<g>
<path d="M 425.16 631.32 L 430.44 631.32 L 430.44 631.56 L 425.16 631.56 z" clip-path="url(#pa8ab9f94da)" style="fill: url(#he7174bcf4e); stroke: #000000; stroke-width: 0.8; stroke-linejoin: miter; stroke-opacity: 0.6" />
</g>
<g>
<path d="M 434.76 631.32 L 440.04 631.32 L 440.04 631.8 L 434.76 631.8 z" clip-path="url(#pa8ab9f94da)" style="fill: url(#he7174bcf4e); stroke: #000000; stroke-width: 0.8; stroke-linejoin: miter; stroke-opacity: 0.6" />
</g>
<g>
<path d="M 444.12 631.32 L 449.4 631.32 L 449.4 632.28 L 444.12 632.28 z" clip-path="url(#pa8ab9f94da)" style="fill: url(#he7174bcf4e); stroke: #000000; stroke-width: 0.8; stroke-linejoin: miter; stroke-opacity: 0.6" />
</g>
<g>
<path d="M 453.72 631.32 L 459 631.32 L 459 632.04 L 453.72 632.04 z" clip-path="url(#pa8ab9f94da)" style="fill: url(#he7174bcf4e); stroke: #000000; stroke-width: 0.8; stroke-linejoin: miter; stroke-opacity: 0.6" />
</g>
<g>
<path d="M 463.32 631.32 L 468.6 631.32 L 468.6 631.8 L 463.32 631.8 z" clip-path="url(#pa8ab9f94da)" style="fill: url(#he7174bcf4e); stroke: #000000; stroke-width: 0.8; stroke-linejoin: miter; stroke-opacity: 0.6" />
</g>
<g>
<path d="M 472.68 631.32 L 477.96 631.32 L 477.96 632.52 L 472.68 632.52 z" clip-path="url(#pa8ab9f94da)" style="fill: url(#he7174bcf4e); stroke: #000000; stroke-width: 0.8; stroke-linejoin: miter; stroke-opacity: 0.6" />
</g>
<g>
<path d="M 482.28 631.32 L 487.56 631.32 L 487.56 631.56 L 482.28 631.56 z" clip-path="url(#pa8ab9f94da)" style="fill: url(#he7174bcf4e); stroke: #000000; stroke-width: 0.8; stroke-linejoin: miter; stroke-opacity: 0.6" />
</g>
<g>
<path d="M 491.88 631.32 L 497.16 631.32 L 497.16 631.08 L 491.88 631.08 z" clip-path="url(#pa8ab9f94da)" style="fill: url(#ha8ac74c9a2); stroke: #000000; stroke-width: 0.8; stroke-linejoin: miter; stroke-opacity: 0.6" />
</g>
<g>
<path d="M 501.48 631.32 L 506.76 631.32 L 506.76 630.12 L 501.48 630.12 z" clip-path="url(#pa8ab9f94da)" style="fill: url(#ha8ac74c9a2); stroke: #000000; stroke-width: 0.8; stroke-linejoin: miter; stroke-opacity: 0.6" />
</g>
<g>
<path d="M 510.84 631.32 L 516.12 631.32 L 516.12 632.04 L 510.84 632.04 z" clip-path="url(#pa8ab9f94da)" style="fill: url(#he7174bcf4e); stroke: #000000; stroke-width: 0.8; stroke-linejoin: miter; stroke-opacity: 0.6" />
</g>
<g>
<path d="M 520.44 631.32 L 525.72 631.32 L 525.72 631.8 L 520.44 631.8 z" clip-path="url(#pa8ab9f94da)" style="fill: url(#he7174bcf4e); stroke: #000000; stroke-width: 0.8; stroke-linejoin: miter; stroke-opacity: 0.6" />
</g>
<g>
<path d="M 530.04 631.32 L 535.32 631.32 L 535.32 628.68 L 530.04 628.68 z" clip-path="url(#pa8ab9f94da)" style="fill: url(#ha8ac74c9a2); stroke: #000000; stroke-width: 0.8; stroke-linejoin: miter; stroke-opacity: 0.6" />
</g>
<g>
<path d="M 539.4 631.32 L 544.68 631.32 L 544.68 630.36 L 539.4 630.36 z" clip-path="url(#pa8ab9f94da)" style="fill: url(#ha8ac74c9a2); stroke: #000000; stroke-width: 0.8; stroke-linejoin: miter; stroke-opacity: 0.6" />
</g>
<g>
<path d="M 549 631.32 L 554.28 631.32 L 554.28 630.6 L 549 630.6 z" clip-path="url(#pa8ab9f94da)" style="fill: url(#ha8ac74c9a2); stroke: #000000; stroke-width: 0.8; stroke-linejoin: miter; stroke-opacity: 0.6" />
</g>
<g>
<path d="M 558.6 631.32 L 563.88 631.32 L 563.88 632.04 L 558.6 632.04 z" clip-path="url(#pa8ab9f94da)" style="fill: url(#he7174bcf4e); stroke: #000000; stroke-width: 0.8; stroke-linejoin: miter; stroke-opacity: 0.6" />
</g>
<g>
<path d="M 568.2 631.32 L 573.24 631.32 L 573.24 627.96 L 568.2 627.96 z" clip-path="url(#pa8ab9f94da)" style="fill: url(#ha8ac74c9a2); stroke: #000000; stroke-width: 0.8; stroke-linejoin: miter; stroke-opacity: 0.6" />
</g>
<g>
<path d="M 577.56 631.32 L 582.84 631.32 L 582.84 630.36 L 577.56 630.36 z" clip-path="url(#pa8ab9f94da)" style="fill: url(#ha8ac74c9a2); stroke: #000000; stroke-width: 0.8; stroke-linejoin: miter; stroke-opacity: 0.6" />
</g>
<g>
<path d="M 587.16 631.32 L 592.44 631.32 L 592.44 631.8 L 587.16 631.8 z" clip-path="url(#pa8ab9f94da)" style="fill: url(#he7174bcf4e); stroke: #000000; stroke-width: 0.8; stroke-linejoin: miter; stroke-opacity: 0.6" />
</g>
<g>
<path d="M 596.76 631.32 L 602.04 631.32 L 602.04 631.32 L 596.76 631.32 z" clip-path="url(#pa8ab9f94da)" style="fill: url(#he7174bcf4e); stroke: #000000; stroke-width: 0.8; stroke-linejoin: miter; stroke-opacity: 0.6" />
</g>
<g>
<path d="M 606.12 631.32 L 611.4 631.32 L 611.4 631.56 L 606.12 631.56 z" clip-path="url(#pa8ab9f94da)" style="fill: url(#he7174bcf4e); stroke: #000000; stroke-width: 0.8; stroke-linejoin: miter; stroke-opacity: 0.6" />
</g>
<g>
<path d="M 615.72 631.32 L 621 631.32 L 621 630.6 L 615.72 630.6 z" clip-path="url(#pa8ab9f94da)" style="fill: url(#ha8ac74c9a2); stroke: #000000; stroke-width: 0.8; stroke-linejoin: miter; stroke-opacity: 0.6" />
</g>
<g>
<path d="M 625.32 631.32 L 630.6 631.32 L 630.6 630.12 L 625.32 630.12 z" clip-path="url(#pa8ab9f94da)" style="fill: url(#ha8ac74c9a2); stroke: #000000; stroke-width: 0.8; stroke-linejoin: miter; stroke-opacity: 0.6" />
</g>
<g>
<path d="M 634.92 631.32 L 639.96 631.32 L 639.96 630.36 L 634.92 630.36 z" clip-path="url(#pa8ab9f94da)" style="fill: url(#ha8ac74c9a2); stroke: #000000; stroke-width: 0.8; stroke-linejoin: miter; stroke-opacity: 0.6" />
</g>
<g>
<path d="M 644.28 631.32 L 649.56 631.32 L 649.56 631.56 L 644.28 631.56 z" clip-path="url(#pa8ab9f94da)" style="fill: url(#he7174bcf4e); stroke: #000000; stroke-width: 0.8; stroke-linejoin: miter; stroke-opacity: 0.6" />
</g>
<g>
<path d="M 653.88 631.32 L 659.16 631.32 L 659.16 630.6 L 653.88 630.6 z" clip-path="url(#pa8ab9f94da)" style="fill: url(#ha8ac74c9a2); stroke: #000000; stroke-width: 0.8; stroke-linejoin: miter; stroke-opacity: 0.6" />
</g>
<g>
<path d="M 663.48 631.32 L 668.76 631.32 L 668.76 631.32 L 663.48 631.32 z" clip-path="url(#pa8ab9f94da)" style="fill: url(#he7174bcf4e); stroke: #000000; stroke-width: 0.8; stroke-linejoin: miter; stroke-opacity: 0.6" />
</g>
<g>
<path d="M 672.84 631.32 L 678.12 631.32 L 678.12 631.56 L 672.84 631.56 z" clip-path="url(#pa8ab9f94da)" style="fill: url(#he7174bcf4e); stroke: #000000; stroke-width: 0.8; stroke-linejoin: miter; stroke-opacity: 0.6" />
</g>
<g>
<g>
<g>
<path d="M 92.28 792.84 L 92.28 585.24" clip-path="url(#pa8ab9f94da)" style="fill: none; stroke: #b0b0b0; stroke-opacity: 0.3; stroke-width: 0.8; stroke-linecap: square" />
</g>
<g>
<g>
<path d="M 92.28 792.84 L 92.28 796.44" style="stroke: #000000; stroke-width: 0.8" />
</g>
</g>
<g>
<text style="font-size: 10px; font-family: 'DejaVu Sans', 'Liberation Sans', sans-serif" transform="translate(79.53688 834.72743) rotate(-45)">2019-11</text>
</g>
</g>
<g>
<g>
<path d="M 133.32 792.84 L 133.32 585.24" clip-path="url(#pa8ab9f94da)" style="fill: none; stroke: #b0b0b0; stroke-opacity: 0.3; stroke-width: 0.8; stroke-linecap: square" />
</g>
<g>
<g>
<path d="M 133.32 792.84 L 133.32 796.44" style="stroke: #000000; stroke-width: 0.8" />
</g>
</g>
<g>
<text style="font-size: 10px; font-family: 'DejaVu Sans', 'Liberation Sans', sans-serif" transform="translate(120.39466 834.70622) rotate(-45)">2019-12</text>
</g>
</g>
<g>
<g>
<path d="M 175.32 792.84 L 175.32 585.24" clip-path="url(#pa8ab9f94da)" style="fill: none; stroke: #b0b0b0; stroke-opacity: 0.3; stroke-width: 0.8; stroke-linecap: square" />
</g>
<g>
<g>
<path d="M 175.32 792.84 L 175.32 796.44" style="stroke: #000000; stroke-width: 0.8" />
</g>
</g>
<g>
<text style="font-size: 10px; font-family: 'DejaVu Sans', 'Liberation Sans', sans-serif" transform="translate(162.59280 834.72743) rotate(-45)">2020-01</text>
</g>
</g>
<g>
<g>
<path d="M 217.56 792.84 L 217.56 585.24" clip-path="url(#pa8ab9f94da)" style="fill: none; stroke: #b0b0b0; stroke-opacity: 0.3; stroke-width: 0.8; stroke-linecap: square" />
</g>
<g>
<g>
<path d="M 217.56 792.84 L 217.56 796.44" style="stroke: #000000; stroke-width: 0.8" />
</g>
</g>
<g>
<text style="font-size: 10px; font-family: 'DejaVu Sans', 'Liberation Sans', sans-serif" transform="translate(204.81215 834.70622) rotate(-45)">2020-02</text>
</g>
</g>
<g>
<g>
<path d="M 257.16 792.84 L 257.16 585.24" clip-path="url(#pa8ab9f94da)" style="fill: none; stroke: #b0b0b0; stroke-opacity: 0.3; stroke-width: 0.8; stroke-linecap: square" />
</g>
<g>
<g>
<path d="M 257.16 792.84 L 257.16 796.44" style="stroke: #000000; stroke-width: 0.8" />
</g>
</g>
<g>
<text style="font-size: 10px; font-family: 'DejaVu Sans', 'Liberation Sans', sans-serif" transform="translate(244.27654 834.74865) rotate(-45)">2020-03</text>
</g>
</g>
<g>
<g>
<path d="M 299.4 792.84 L 299.4 585.24" clip-path="url(#pa8ab9f94da)" style="fill: none; stroke: #b0b0b0; stroke-opacity: 0.3; stroke-width: 0.8; stroke-linecap: square" />
</g>
<g>
<g>
<path d="M 299.4 792.84 L 299.4 796.44" style="stroke: #000000; stroke-width: 0.8" />
</g>
</g>
<g>
<text style="font-size: 10px; font-family: 'DejaVu Sans', 'Liberation Sans', sans-serif" transform="translate(286.49590 834.72743) rotate(-45)">2020-04</text>
</g>
</g>
<g>
<g>
<path d="M 340.2 792.84 L 340.2 585.24" clip-path="url(#pa8ab9f94da)" style="fill: none; stroke: #b0b0b0; stroke-opacity: 0.3; stroke-width: 0.8; stroke-linecap: square" />
</g>
<g>
<g>
<path d="M 340.2 792.84 L 340.2 796.44" style="stroke: #000000; stroke-width: 0.8" />
</g>
</g>
<g>
<text style="font-size: 10px; font-family: 'DejaVu Sans', 'Liberation Sans', sans-serif" transform="translate(327.34307 834.72743) rotate(-45)">2020-05</text>
</g>
</g>
<g>
<g>
<path d="M 382.44 792.84 L 382.44 585.24" clip-path="url(#pa8ab9f94da)" style="fill: none; stroke: #b0b0b0; stroke-opacity: 0.3; stroke-width: 0.8; stroke-linecap: square" />
</g>
<g>
<g>
<path d="M 382.44 792.84 L 382.44 796.44" style="stroke: #000000; stroke-width: 0.8" />
</g>
</g>
<g>
<text style="font-size: 10px; font-family: 'DejaVu Sans', 'Liberation Sans', sans-serif" transform="translate(369.55182 834.72743) rotate(-45)">2020-06</text>
</g>
</g>
<g>
<g>
<path d="M 423.24 792.84 L 423.24 585.24" clip-path="url(#pa8ab9f94da)" style="fill: none; stroke: #b0b0b0; stroke-opacity: 0.3; stroke-width: 0.8; stroke-linecap: square" />
</g>
<g>
<g>
<path d="M 423.24 792.84 L 423.24 796.44" style="stroke: #000000; stroke-width: 0.8" />
</g>
</g>
<g>
<text style="font-size: 10px; font-family: 'DejaVu Sans', 'Liberation Sans', sans-serif" transform="translate(410.40960 834.70622) rotate(-45)">2020-07</text>
</g>
</g>
<g>
<g>
<path d="M 465.48 792.84 L 465.48 585.24" clip-path="url(#pa8ab9f94da)" style="fill: none; stroke: #b0b0b0; stroke-opacity: 0.3; stroke-width: 0.8; stroke-linecap: square" />
</g>
<g>
<g>
<path d="M 465.48 792.84 L 465.48 796.44" style="stroke: #000000; stroke-width: 0.8" />
</g>
</g>
<g>
<text style="font-size: 10px; font-family: 'DejaVu Sans', 'Liberation Sans', sans-serif" transform="translate(452.59713 834.74865) rotate(-45)">2020-08</text>
</g>
</g>
<g>
<g>
<path d="M 507.72 792.84 L 507.72 585.24" clip-path="url(#pa8ab9f94da)" style="fill: none; stroke: #b0b0b0; stroke-opacity: 0.3; stroke-width: 0.8; stroke-linecap: square" />
</g>
<g>
<g>
<path d="M 507.72 792.84 L 507.72 796.44" style="stroke: #000000; stroke-width: 0.8" />
</g>
</g>
<g>
<text style="font-size: 10px; font-family: 'DejaVu Sans', 'Liberation Sans', sans-serif" transform="translate(494.82709 834.70622) rotate(-45)">2020-09</text>
</g>
</g>
<g>
<g>
<path d="M 548.52 792.84 L 548.52 585.24" clip-path="url(#pa8ab9f94da)" style="fill: none; stroke: #b0b0b0; stroke-opacity: 0.3; stroke-width: 0.8; stroke-linecap: square" />
</g>
<g>
<g>
<path d="M 548.52 792.84 L 548.52 796.44" style="stroke: #000000; stroke-width: 0.8" />
</g>
</g>
<g>
<text style="font-size: 10px; font-family: 'DejaVu Sans', 'Liberation Sans', sans-serif" transform="translate(535.66366 834.72743) rotate(-45)">2020-10</text>
</g>
</g>
<g>
<g>
<path d="M 590.76 792.84 L 590.76 585.24" clip-path="url(#pa8ab9f94da)" style="fill: none; stroke: #b0b0b0; stroke-opacity: 0.3; stroke-width: 0.8; stroke-linecap: square" />
</g>
<g>
<g>
<path d="M 590.76 792.84 L 590.76 796.44" style="stroke: #000000; stroke-width: 0.8" />
</g>
</g>
<g>
<text style="font-size: 10px; font-family: 'DejaVu Sans', 'Liberation Sans', sans-serif" transform="translate(577.87241 834.72743) rotate(-45)">2020-11</text>
</g>
</g>
<g>
<g>
<path d="M 631.56 792.84 L 631.56 585.24" clip-path="url(#pa8ab9f94da)" style="fill: none; stroke: #b0b0b0; stroke-opacity: 0.3; stroke-width: 0.8; stroke-linecap: square" />
</g>
<g>
<g>
<path d="M 631.56 792.84 L 631.56 796.44" style="stroke: #000000; stroke-width: 0.8" />
</g>
</g>
<g>
<text style="font-size: 10px; font-family: 'DejaVu Sans', 'Liberation Sans', sans-serif" transform="translate(618.73019 834.70622) rotate(-45)">2020-12</text>
</g>
</g>
<g>
<g>
<path d="M 673.8 792.84 L 673.8 585.24" clip-path="url(#pa8ab9f94da)" style="fill: none; stroke: #b0b0b0; stroke-opacity: 0.3; stroke-width: 0.8; stroke-linecap: square" />
</g>
<g>
<g>
<path d="M 673.8 792.84 L 673.8 796.44" style="stroke: #000000; stroke-width: 0.8" />
</g>
</g>
<g>
<text style="font-size: 10px; font-family: 'DejaVu Sans', 'Liberation Sans', sans-serif" transform="translate(660.92833 834.72743) rotate(-45)">2021-01</text>
</g>
</g>
<g>
<text style="font-size: 12px; font-family: 'DejaVu Sans', 'Liberation Sans', sans-serif; text-anchor: middle" x="385.608" y="849.39600">Time</text>
</g>
</g>
<g>
<g>
<g>
<path d="M 62.04 792.84 L 709.32 792.84" clip-path="url(#pa8ab9f94da)" style="fill: none; stroke: #b0b0b0; stroke-opacity: 0.3; stroke-width: 0.8; stroke-linecap: square" />
</g>
<g>
<g>
<path d="M 62.04 792.84 L 58.44 792.84" style="stroke: #000000; stroke-width: 0.8" />
</g>
</g>
<g>
<text style="font-size: 10px; font-family: 'DejaVu Sans', 'Liberation Sans', sans-serif; text-anchor: end" x="55.016" y="796.6008">−35</text>
</g>
</g>
<g>
<g>
<path d="M 62.04 769.8 L 709.32 769.8" clip-path="url(#pa8ab9f94da)" style="fill: none; stroke: #b0b0b0; stroke-opacity: 0.3; stroke-width: 0.8; stroke-linecap: square" />
</g>
<g>
<g>
<path d="M 62.04 769.8 L 58.44 769.8" style="stroke: #000000; stroke-width: 0.8" />
</g>
</g>
<g>
<text style="font-size: 10px; font-family: 'DejaVu Sans', 'Liberation Sans', sans-serif; text-anchor: end" x="55.016" y="773.53626">−30</text>
</g>
</g>
<g>
<g>
<path d="M 62.04 746.52 L 709.32 746.52" clip-path="url(#pa8ab9f94da)" style="fill: none; stroke: #b0b0b0; stroke-opacity: 0.3; stroke-width: 0.8; stroke-linecap: square" />
</g>
<g>
<g>
<path d="M 62.04 746.52 L 58.44 746.52" style="stroke: #000000; stroke-width: 0.8" />
</g>
</g>
<g>
<text style="font-size: 10px; font-family: 'DejaVu Sans', 'Liberation Sans', sans-serif; text-anchor: end" x="55.016" y="750.47173">−25</text>
</g>
</g>
<g>
<g>
<path d="M 62.04 723.48 L 709.32 723.48" clip-path="url(#pa8ab9f94da)" style="fill: none; stroke: #b0b0b0; stroke-opacity: 0.3; stroke-width: 0.8; stroke-linecap: square" />
</g>
<g>
<g>
<path d="M 62.04 723.48 L 58.44 723.48" style="stroke: #000000; stroke-width: 0.8" />
</g>
</g>
<g>
<text style="font-size: 10px; font-family: 'DejaVu Sans', 'Liberation Sans', sans-serif; text-anchor: end" x="55.016" y="727.4072">−20</text>
</g>
</g>
<g>
<g>
<path d="M 62.04 700.44 L 709.32 700.44" clip-path="url(#pa8ab9f94da)" style="fill: none; stroke: #b0b0b0; stroke-opacity: 0.3; stroke-width: 0.8; stroke-linecap: square" />
</g>
<g>
<g>
<path d="M 62.04 700.44 L 58.44 700.44" style="stroke: #000000; stroke-width: 0.8" />
</g>
</g>
<g>
<text style="font-size: 10px; font-family: 'DejaVu Sans', 'Liberation Sans', sans-serif; text-anchor: end" x="55.016" y="704.34266">−15</text>
</g>
</g>
<g>
<g>
<path d="M 62.04 677.4 L 709.32 677.4" clip-path="url(#pa8ab9f94da)" style="fill: none; stroke: #b0b0b0; stroke-opacity: 0.3; stroke-width: 0.8; stroke-linecap: square" />
</g>
<g>
<g>
<path d="M 62.04 677.4 L 58.44 677.4" style="stroke: #000000; stroke-width: 0.8" />
</g>
</g>
<g>
<text style="font-size: 10px; font-family: 'DejaVu Sans', 'Liberation Sans', sans-serif; text-anchor: end" x="55.016" y="681.27813">−10</text>
</g>
</g>
<g>
<g>
<path d="M 62.04 654.36 L 709.32 654.36" clip-path="url(#pa8ab9f94da)" style="fill: none; stroke: #b0b0b0; stroke-opacity: 0.3; stroke-width: 0.8; stroke-linecap: square" />
</g>
<g>
<g>
<path d="M 62.04 654.36 L 58.44 654.36" style="stroke: #000000; stroke-width: 0.8" />
</g>
</g>
<g>
<text style="font-size: 10px; font-family: 'DejaVu Sans', 'Liberation Sans', sans-serif; text-anchor: end" x="55.016" y="658.2136">−5</text>
</g>
</g>
<g>
<g>
<path d="M 62.04 631.32 L 709.32 631.32" clip-path="url(#pa8ab9f94da)" style="fill: none; stroke: #b0b0b0; stroke-opacity: 0.3; stroke-width: 0.8; stroke-linecap: square" />
</g>
<g>
<g>
<path d="M 62.04 631.32 L 58.44 631.32" style="stroke: #000000; stroke-width: 0.8" />
</g>
</g>
<g>
<text style="font-size: 10px; font-family: 'DejaVu Sans', 'Liberation Sans', sans-serif; text-anchor: end" x="55.016" y="635.14906">0</text>
</g>
</g>
<g>
<g>
<path d="M 62.04 608.28 L 709.32 608.28" clip-path="url(#pa8ab9f94da)" style="fill: none; stroke: #b0b0b0; stroke-opacity: 0.3; stroke-width: 0.8; stroke-linecap: square" />
</g>
<g>
<g>
<path d="M 62.04 608.28 L 58.44 608.28" style="stroke: #000000; stroke-width: 0.8" />
</g>
</g>
<g>
<text style="font-size: 10px; font-family: 'DejaVu Sans', 'Liberation Sans', sans-serif; text-anchor: end" x="55.016" y="612.08453">5</text>
</g>
</g>
<g>
<g>
<path d="M 62.04 585.24 L 709.32 585.24" clip-path="url(#pa8ab9f94da)" style="fill: none; stroke: #b0b0b0; stroke-opacity: 0.3; stroke-width: 0.8; stroke-linecap: square" />
</g>
<g>
<g>
<path d="M 62.04 585.24 L 58.44 585.24" style="stroke: #000000; stroke-width: 0.8" />
</g>
</g>
<g>
<text style="font-size: 10px; font-family: 'DejaVu Sans', 'Liberation Sans', sans-serif; text-anchor: end" x="55.016" y="589.02">10</text>
</g>
</g>
<g>
<text style="font-size: 12px; font-family: 'DejaVu Sans', 'Liberation Sans', sans-serif; text-anchor: middle" x="27.496" y="688.8504" transform="rotate(-90 27.496 688.8504)">Weekly Tracer Load (-/week)</text>
</g>
</g>
<g>
<path d="M 94.912 631.333 L 104.443 644.516 L 113.974 642.224 L 123.505 711.328 L 133.036 697.57 L 142.567 633.832 L 152.098 665.526 L 161.629 671.581 L 171.16 701.013 L 180.691 728.696 L 190.222 670.854 L 199.753 674.984 L 209.284 703.639 L 218.815 685.051 L 228.346 643.435 L 237.877 645.562 L 247.408 648.616 L 256.939 659.034 L 266.47 650.067 L 276.001 679.957 L 285.532 674.634 L 295.063 672.066 L 304.594 668.377 L 314.125 663.46 L 323.656 669.642 L 333.187 674.883 L 342.718 710.905 L 352.249 702.631 L 361.78 640.569 L 371.311 679.706 L 380.842 694.801 L 390.374 679.639 L 399.905 668.416 L 409.436 671.73 L 418.967 691.651 L 428.498 645.185 L 438.029 652.506 L 447.56 687.175 L 457.091 646.483 L 466.622 651.876 L 476.153 642.929 L 485.684 683.88 L 495.215 641.49 L 504.746 649.166 L 514.277 713.141 L 523.808 682.538 L 533.339 658.234 L 542.87 669.798 L 552.401 670.876 L 561.932 663.313 L 571.463 705.702 L 580.994 679.235 L 590.525 644.461 L 600.056 676.438 L 609.587 655.346 L 619.118 699.856 L 628.649 732.19 L 638.18 708.577 L 647.711 638.301 L 657.242 716.67 L 666.773 651.33 L 676.304 642.121" clip-path="url(#pa8ab9f94da)" style="fill: none; stroke-dasharray: 1,1.65; stroke-dashoffset: 0; stroke: #006400" />
</g>
<g>
<path d="M 61.92 631.2 L 709.2 631.2" clip-path="url(#pa8ab9f94da)" style="fill: none; stroke: #000000; stroke-opacity: 0.5; stroke-width: 2; stroke-linecap: square" />
</g>
<g>
<path d="M 62.04 792.84 L 62.04 585.24" style="fill: none; stroke: #000000; stroke-width: 0.8; stroke-linejoin: miter; stroke-linecap: square" />
</g>
<g>
<path d="M 709.32 792.84 L 709.32 585.24" style="fill: none; stroke: #000000; stroke-width: 0.8; stroke-linejoin: miter; stroke-linecap: square" />
</g>
<g>
<path d="M 62.04 792.84 L 709.32 792.84" style="fill: none; stroke: #000000; stroke-width: 0.8; stroke-linejoin: miter; stroke-linecap: square" />
</g>
<g>
<path d="M 62.04 585.24 L 709.32 585.24" style="fill: none; stroke: #000000; stroke-width: 0.8; stroke-linejoin: miter; stroke-linecap: square" />
</g>
<g>
<g>
<path d="M 74.96 608.519 L 177.11 608.519 Q 180.11 608.519 180.11 605.519 L 180.11 595.439 Q 180.11 592.439 177.11 592.439 L 74.96 592.439 Q 71.96 592.439 71.96 595.439 L 71.96 605.519 Q 71.96 608.519 74.96 608.519 z" style="fill: #f08080; stroke: #000000; stroke-linejoin: miter; fill-opacity: 0.7; stroke-opacity: 0.7" />
</g>
<text style="font-size: 10px; font-family: 'DejaVu Sans', 'Liberation Sans', sans-serif; text-anchor: start" x="74.95968" y="603.35904">Red/Darkred: Import</text>
</g>
<g>
<g>
<path d="M 191.453 608.519 L 285.503 608.519 Q 288.503 608.519 288.503 605.519 L 288.503 595.439 Q 288.503 592.439 285.503 592.439 L 191.453 592.439 Q 188.453 592.439 188.453 595.439 L 188.453 605.519 Q 188.453 608.519 191.453 608.519 z" style="fill: #008000; stroke: #000000; stroke-linejoin: miter; fill-opacity: 0.6; stroke-opacity: 0.6" />
</g>
<text style="font-size: 10px; font-family: 'DejaVu Sans', 'Liberation Sans', sans-serif; text-anchor: start" x="191.4528" y="603.35904">Total: -548.2 tonne</text>
</g>
<g>
<g>
<path d="M 74.96 785.262 L 164.36 785.262 Q 167.36 785.262 167.36 782.262 L 167.36 772.182 Q 167.36 769.182 164.36 769.182 L 74.96 769.182 Q 71.96 769.182 71.96 772.182 L 71.96 782.262 Q 71.96 785.262 74.96 785.262 z" style="fill: #add8e6; stroke: #000000; stroke-linejoin: miter; fill-opacity: 0.7; stroke-opacity: 0.7" />
</g>
<text style="font-size: 10px; font-family: 'DejaVu Sans', 'Liberation Sans', sans-serif; text-anchor: start" x="74.95968" y="780.10176">Blue/Navy: Export</text>
</g>
<g>
<text style="font-weight: 700; font-size: 14px; font-family: 'DejaVu Sans', 'Liberation Sans', sans-serif; text-anchor: middle" x="385.608" y="579.06">(c) 2020 Discharge tracer load through Cockburn Sound</text>
</g>
<g>
<g>
<path d="M 577.11 787.641 L 702.2 787.641 Q 704.2 787.641 704.2 785.641 L 704.2 741.401 Q 704.2 739.401 702.2 739.401 L 577.11 739.401 Q 575.11 739.401 575.11 741.401 L 575.11 785.641 Q 575.11 787.641 577.11 787.641 z" style="fill: #ffffff; stroke: #cccccc; stroke-linejoin: miter; fill-opacity: 0.8; stroke-opacity: 0.8" />
</g>
<g>
<path d="M 579.12 747.84 L 589.2 747.84 L 599.04 747.84" style="fill: none; stroke-dasharray: 1,1.65; stroke-dashoffset: 0; stroke: #006400" />
</g>
<g>
<text style="font-size: 10px; font-family: 'DejaVu Sans', 'Liberation Sans', sans-serif; text-anchor: start" x="607.11" y="751.3208">Net Weekly Import</text>
</g>
<g>
<path d="M 579.12 766.32 L 599.04 766.32 L 599.04 759.36 L 579.12 759.36 z" style="fill: #0000ff; stroke: #808080; stroke-width: 1.5; stroke-linejoin: miter; fill-opacity: 0.6; stroke-opacity: 0.6" />
</g>
<g>
<text style="font-size: 10px; font-family: 'DejaVu Sans', 'Liberation Sans', sans-serif; text-anchor: start" x="607.11" y="766.4008">CS-North (NS5)</text>
</g>
<g>
<path d="M 579.24 781.56 L 599.16 781.56 L 599.16 774.6 L 579.24 774.6 z" style="fill: url(#ha8ac74c9a2); stroke: #000000; stroke-width: 0.8; stroke-linejoin: miter; stroke-opacity: 0.6" />
</g>
<g>
<text style="font-size: 10px; font-family: 'DejaVu Sans', 'Liberation Sans', sans-serif; text-anchor: start" x="607.11" y="781.4808">CS-South (NS11)</text>
</g>
</g>
</g>
<g>
<text style="font-size: 9px; font-family: 'DejaVu Sans', 'Liberation Sans', sans-serif; text-anchor: end; fill: #808080; opacity: 0.25" x="705.12" y="848.88">1.6.0_csiem_A001_20191101_20201231_WQ_FLUX</text>
</g>
</g>
<defs>
<clipPath id="p6a56308ee3">
<rect x="62.016" y="27.6" width="647.184" height="207.5808" />
</clipPath>
<clipPath id="pf68f70f5b5">
<rect x="62.016" y="306.33" width="647.184" height="207.5808" />
</clipPath>
<clipPath id="pa8ab9f94da">
<rect x="62.016" y="585.06" width="647.184" height="207.5808" />
</clipPath>
</defs>
<defs>
<pattern id="ha8ac74c9a2" patternUnits="userSpaceOnUse" x="0" y="0" width="6" height="12">
<rect x="0" y="0" width="6" height="12" fill="#8b0000" fill-opacity="0.6" /><g style="fill: #000000; fill-opacity: 0.6; stroke: #000000; stroke-opacity: 0.6; stroke-width: 1"><circle cx="0" cy="0" r="0.6" /><circle cx="6" cy="0" r="0.6" /><circle cx="3" cy="6" r="0.6" /><circle cx="0" cy="12" r="0.6" /><circle cx="6" cy="12" r="0.6" /></g></pattern>
<pattern id="he7174bcf4e" patternUnits="userSpaceOnUse" x="0" y="0" width="6" height="12">
<rect x="0" y="0" width="6" height="12" fill="#000080" fill-opacity="0.6" /><g style="fill: #000000; fill-opacity: 0.6; stroke: #000000; stroke-opacity: 0.6; stroke-width: 1"><circle cx="0" cy="0" r="0.6" /><circle cx="6" cy="0" r="0.6" /><circle cx="3" cy="6" r="0.6" /><circle cx="0" cy="12" r="0.6" /><circle cx="6" cy="12" r="0.6" /></g></pattern>
</defs>
</svg>
</body>
</html>
